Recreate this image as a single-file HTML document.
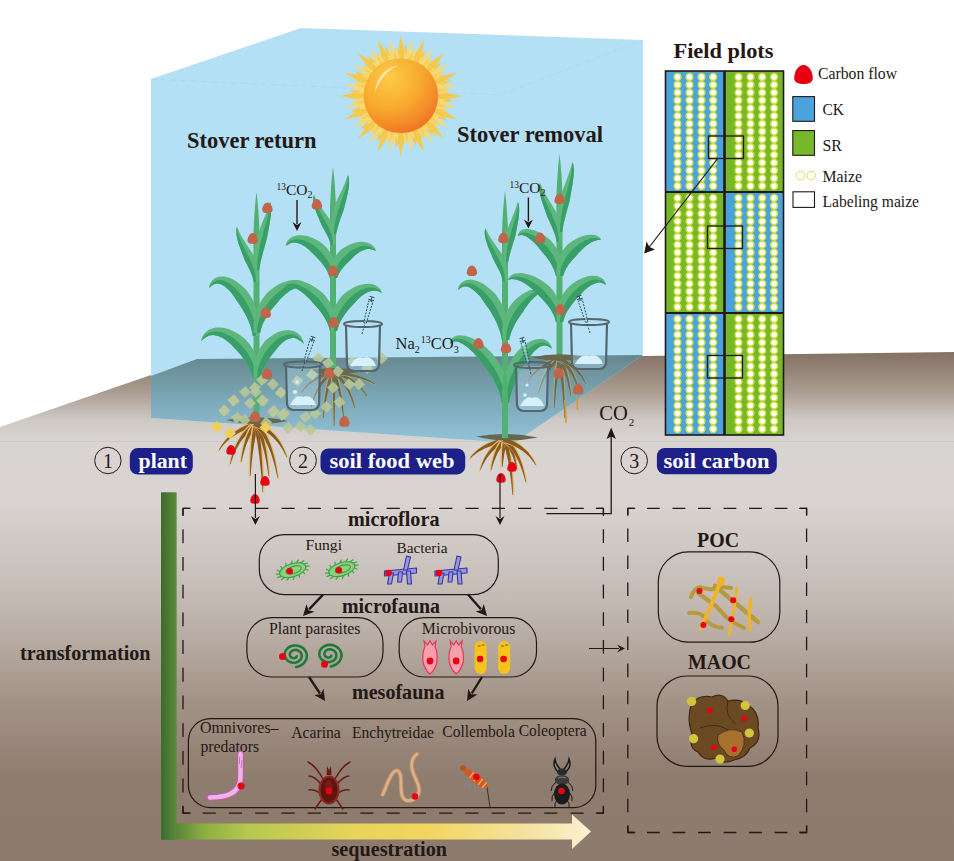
<!DOCTYPE html>
<html><head><meta charset="utf-8"><style>
html,body{margin:0;padding:0;background:#fff;}
svg{display:block;font-family:"Liberation Serif",serif;}
</style></head><body>
<svg width="954" height="861" viewBox="0 0 954 861">
<defs>
<linearGradient id="soil" gradientUnits="userSpaceOnUse" x1="0" y1="352" x2="0" y2="861">
 <stop offset="0" stop-color="#837164"/>
 <stop offset="0.075" stop-color="#a89a8e"/>
 <stop offset="0.134" stop-color="#cfc9c5"/>
 <stop offset="0.175" stop-color="#d8d4d1"/>
 <stop offset="0.3" stop-color="#d8d3d0"/>
 <stop offset="0.5" stop-color="#c2b8b1"/>
 <stop offset="0.684" stop-color="#a39387"/>
 <stop offset="0.84" stop-color="#8e7c6e"/>
 <stop offset="1" stop-color="#8d7b6d"/>
</linearGradient>
<linearGradient id="boxfloor" gradientUnits="userSpaceOnUse" x1="0" y1="358" x2="0" y2="443">
 <stop offset="0" stop-color="#678a91"/>
 <stop offset="0.5" stop-color="#7ca8b8"/>
 <stop offset="1" stop-color="#93c4d9"/>
</linearGradient>
<linearGradient id="seq" gradientUnits="userSpaceOnUse" x1="161" y1="0" x2="591" y2="0">
 <stop offset="0" stop-color="#3f6d30"/>
 <stop offset="0.1" stop-color="#8cae42"/>
 <stop offset="0.2" stop-color="#b6c84e"/>
 <stop offset="0.45" stop-color="#e8d35c"/>
 <stop offset="0.62" stop-color="#f2d560"/>
 <stop offset="0.86" stop-color="#f5e3a2"/>
 <stop offset="1" stop-color="#f9f1d2"/>
</linearGradient>
<linearGradient id="trans" gradientUnits="userSpaceOnUse" x1="161" y1="0" x2="176.4" y2="0">
 <stop offset="0" stop-color="#3d6a2e"/>
 <stop offset="1" stop-color="#5b8a3c"/>
</linearGradient>
<radialGradient id="sunbody" cx="0.35" cy="0.25" r="0.85">
 <stop offset="0" stop-color="#fccb45"/>
 <stop offset="0.5" stop-color="#f8aa2e"/>
 <stop offset="0.85" stop-color="#f17f27"/>
 <stop offset="1" stop-color="#ec6a22"/>
</radialGradient>
</defs>
<rect x="0" y="0" width="954" height="861" fill="#ffffff"/>
<polygon points="0,427 151,375 197,359 643,356 954,352 954,861 0,861" fill="url(#soil)"/>
<line x1="0" y1="441.5" x2="954" y2="441.5" stroke="#c4bdb8" stroke-width="0.8" opacity="0.6"/>
<polygon points="151,79 301,28 643,40 643,355 514,443 151,418" fill="#b4e0f6"/>
<polygon points="151,376 197,359 643,355 514,443 151,418" fill="url(#boxfloor)"/>
<path d="M151,79 L500,95 L643,40" stroke="#9fd3ef" stroke-width="0.8" fill="none" stroke-dasharray="6 4" opacity="0.7"/>
<path d="M430.4,89.9 L449.5,90.5 L444.8,92.8 L462.0,96.0 L448.5,98.9 L453.2,101.4 L430.4,102.1Z M430.5,101.6 L447.9,109.5 L442.7,109.8 L457.4,119.3 L443.7,116.9 L447.1,121.0 L425.8,112.9Z M426.1,112.4 L439.2,126.4 L434.2,124.7 L444.1,139.1 L432.5,131.7 L434.1,136.7 L417.4,121.1Z M417.9,120.8 L424.7,138.7 L420.7,135.3 L424.3,152.4 L416.5,141.0 L416.0,146.3 L406.6,125.5Z M407.1,125.4 L406.5,144.5 L404.2,139.8 L401.0,157.0 L398.1,143.5 L395.6,148.2 L394.9,125.4Z M395.4,125.5 L387.5,142.9 L387.2,137.7 L377.7,152.4 L380.1,138.7 L376.0,142.1 L384.1,120.8Z M384.6,121.1 L370.6,134.2 L372.3,129.2 L357.9,139.1 L365.3,127.5 L360.3,129.1 L375.9,112.4Z M376.2,112.9 L358.3,119.7 L361.7,115.7 L344.6,119.3 L356.0,111.5 L350.7,111.0 L371.5,101.6Z M371.6,102.1 L352.5,101.5 L357.2,99.2 L340.0,96.0 L353.5,93.1 L348.8,90.6 L371.6,89.9Z M371.5,90.4 L354.1,82.5 L359.3,82.2 L344.6,72.7 L358.3,75.1 L354.9,71.0 L376.2,79.1Z M375.9,79.6 L362.8,65.6 L367.8,67.3 L357.9,52.9 L369.5,60.3 L367.9,55.3 L384.6,70.9Z M384.1,71.2 L377.3,53.3 L381.3,56.7 L377.7,39.6 L385.5,51.0 L386.0,45.7 L395.4,66.5Z M394.9,66.6 L395.5,47.5 L397.8,52.2 L401.0,35.0 L403.9,48.5 L406.4,43.8 L407.1,66.6Z M406.6,66.5 L414.5,49.1 L414.8,54.3 L424.3,39.6 L421.9,53.3 L426.0,49.9 L417.9,71.2Z M417.4,70.9 L431.4,57.8 L429.7,62.8 L444.1,52.9 L436.7,64.5 L441.7,62.9 L426.1,79.6Z M425.8,79.1 L443.7,72.3 L440.3,76.3 L457.4,72.7 L446.0,80.5 L451.3,81.0 L430.5,90.4Z" fill="#f5c84e" opacity="1"/>
<path d="M431.0,95.7 L446.4,99.8 L441.7,101.1 L456.9,107.1 L444.0,107.4 L447.8,110.5 L428.6,107.8Z M428.8,107.2 L441.5,116.9 L436.7,116.3 L448.4,127.7 L436.4,122.9 L438.7,127.3 L422.0,117.4Z M422.4,117.0 L430.5,130.8 L426.2,128.4 L432.7,143.4 L423.4,134.4 L423.9,139.3 L412.2,123.8Z M412.8,123.6 L414.9,139.4 L411.9,135.6 L412.1,151.9 L407.0,140.1 L405.6,144.8 L400.7,126.0Z M401.3,126.0 L397.2,141.4 L395.9,136.7 L389.9,151.9 L389.6,139.0 L386.5,142.8 L389.2,123.6Z M389.8,123.8 L380.1,136.5 L380.7,131.7 L369.3,143.4 L374.1,131.4 L369.7,133.7 L379.6,117.0Z M380.0,117.4 L366.2,125.5 L368.6,121.2 L353.6,127.7 L362.6,118.4 L357.7,118.9 L373.2,107.2Z M373.4,107.8 L357.6,109.9 L361.4,106.9 L345.1,107.1 L356.9,102.0 L352.2,100.6 L371.0,95.7Z M371.0,96.3 L355.6,92.2 L360.3,90.9 L345.1,84.9 L358.0,84.6 L354.2,81.5 L373.4,84.2Z M373.2,84.8 L360.5,75.1 L365.3,75.7 L353.6,64.3 L365.6,69.1 L363.3,64.7 L380.0,74.6Z M379.6,75.0 L371.5,61.2 L375.8,63.6 L369.3,48.6 L378.6,57.6 L378.1,52.7 L389.8,68.2Z M389.2,68.4 L387.1,52.6 L390.1,56.4 L389.9,40.1 L395.0,51.9 L396.4,47.2 L401.3,66.0Z M400.7,66.0 L404.8,50.6 L406.1,55.3 L412.1,40.1 L412.4,53.0 L415.5,49.2 L412.8,68.4Z M412.2,68.2 L421.9,55.5 L421.3,60.3 L432.7,48.6 L427.9,60.6 L432.3,58.3 L422.4,75.0Z M422.0,74.6 L435.8,66.5 L433.4,70.8 L448.4,64.3 L439.4,73.6 L444.3,73.1 L428.8,84.8Z M428.6,84.2 L444.4,82.1 L440.6,85.1 L456.9,84.9 L445.1,90.0 L449.8,91.4 L431.0,96.3Z" fill="#f9d870" opacity="0.95"/>
<path d="M431.0,94.4 L447.9,98.3 L430.7,100.5Z M430.7,100.3 L446.6,107.4 L429.2,106.2Z M429.3,106.0 L443.5,116.1 L426.7,111.5Z M426.8,111.3 L438.8,124.0 L423.1,116.3Z M423.3,116.0 L432.6,130.8 L418.8,120.2Z M419.0,120.0 L425.2,136.3 L413.7,123.2Z M414.0,123.1 L416.8,140.3 L408.1,125.1Z M408.4,125.1 L407.9,142.5 L402.3,126.0Z M402.6,126.0 L398.7,142.9 L396.5,125.7Z M396.7,125.7 L389.6,141.6 L390.8,124.2Z M391.0,124.3 L380.9,138.5 L385.5,121.7Z M385.7,121.8 L373.0,133.8 L380.7,118.1Z M381.0,118.3 L366.2,127.6 L376.8,113.8Z M377.0,114.0 L360.7,120.2 L373.8,108.7Z M373.9,109.0 L356.7,111.8 L371.9,103.1Z M371.9,103.4 L354.5,102.9 L371.0,97.3Z M371.0,97.6 L354.1,93.7 L371.3,91.5Z M371.3,91.7 L355.4,84.6 L372.8,85.8Z M372.7,86.0 L358.5,75.9 L375.3,80.5Z M375.2,80.7 L363.2,68.0 L378.9,75.7Z M378.7,76.0 L369.4,61.2 L383.2,71.8Z M383.0,72.0 L376.8,55.7 L388.3,68.8Z M388.0,68.9 L385.2,51.7 L393.9,66.9Z M393.6,66.9 L394.1,49.5 L399.7,66.0Z M399.4,66.0 L403.3,49.1 L405.5,66.3Z M405.3,66.3 L412.4,50.4 L411.2,67.8Z M411.0,67.7 L421.1,53.5 L416.5,70.3Z M416.3,70.2 L429.0,58.2 L421.3,73.9Z M421.0,73.7 L435.8,64.4 L425.2,78.2Z M425.0,78.0 L441.3,71.8 L428.2,83.3Z M428.1,83.0 L445.3,80.2 L430.1,88.9Z M430.1,88.6 L447.5,89.1 L431.0,94.7Z" fill="#f3c044" opacity="0.45"/>
<circle cx="401" cy="96" r="37.5" fill="#f3b43c"/>
<circle cx="401" cy="96" r="37" fill="url(#sunbody)"/>
<path d="M375,92 Q377,70 399,65 Q383,72 375,92 Z" fill="#fff2c4" opacity="0.75"/>
<path d="M253.5,421 L253.5,232 Q254.5,207 256.5,192 Q258.5,207 259.5,232 L259.5,421 Z" fill="#52b072"/>
<path d="M258.2,282.0 L258.6,279.2 L258.7,276.4 L258.6,273.6 L258.4,270.9 L257.9,268.1 L257.3,265.4 L256.6,262.8 L255.7,260.2 L254.7,257.7 L253.6,255.3 L252.2,253.1 L250.8,250.9 L249.4,248.8 L248.0,246.7 L246.7,244.6 L245.3,242.6 L244.1,240.6 L242.9,238.7 L241.7,236.8 L240.7,234.8 L239.7,232.9 L238.8,231.0 L238.0,229.0 L237.0,227.0 L237.0,227.0 L236.4,229.2 L236.3,231.5 L236.4,233.8 L236.7,236.1 L237.2,238.5 L237.8,240.8 L238.4,243.2 L239.2,245.6 L240.1,247.9 L241.0,250.3 L241.9,252.7 L242.8,255.0 L243.7,257.4 L244.6,259.7 L245.7,261.9 L246.8,264.1 L247.9,266.3 L248.9,268.4 L250.0,270.6 L250.9,272.8 L251.8,275.0 L252.6,277.2 L253.2,279.6 L253.8,282.0 Z" fill="#5db67b"/>
<path d="M256.0,282.0 L255.9,279.4 L255.6,276.8 L255.2,274.3 L254.6,271.8 L254.0,269.3 L253.1,266.9 L252.2,264.5 L251.3,262.2 L250.2,259.8 L249.1,257.5 L248.0,255.2 L246.8,253.0 L245.6,250.7 L244.5,248.5 L243.4,246.3 L242.3,244.1 L241.3,241.9 L240.3,239.8 L239.4,237.6 L238.7,235.5 L238.0,233.4 L237.5,231.2 L237.2,229.1 L237.0,227.0 L237.0,227.0 L236.4,229.2 L236.3,231.5 L236.4,233.8 L236.7,236.1 L237.2,238.5 L237.8,240.8 L238.4,243.2 L239.2,245.6 L240.1,247.9 L241.0,250.3 L241.9,252.7 L242.8,255.0 L243.7,257.4 L244.6,259.7 L245.7,261.9 L246.8,264.1 L247.9,266.3 L248.9,268.4 L250.0,270.6 L250.9,272.8 L251.8,275.0 L252.6,277.2 L253.2,279.6 L253.8,282.0 Z" fill="#389f69"/>
<path d="M254.8,270.0 L254.4,266.5 L254.2,263.0 L254.1,259.5 L254.1,256.1 L254.3,252.7 L254.6,249.3 L255.1,246.0 L255.6,242.8 L256.3,239.6 L257.1,236.6 L258.1,233.6 L259.2,230.8 L260.2,228.0 L261.3,225.3 L262.3,222.7 L263.4,220.1 L264.3,217.6 L265.3,215.2 L266.2,212.9 L267.0,210.6 L267.8,208.4 L268.5,206.2 L269.1,204.1 L270.0,202.0 L270.0,202.0 L270.7,204.2 L271.0,206.5 L271.1,208.9 L271.1,211.4 L270.9,213.9 L270.7,216.5 L270.3,219.2 L269.9,221.9 L269.4,224.7 L268.9,227.5 L268.4,230.4 L267.8,233.3 L267.3,236.2 L266.7,239.1 L265.9,242.1 L265.1,245.0 L264.3,248.0 L263.4,251.0 L262.6,254.0 L261.8,257.1 L261.0,260.2 L260.3,263.4 L259.7,266.7 L259.2,270.0 Z" fill="#5db67b"/>
<path d="M257.0,270.0 L257.1,266.6 L257.3,263.2 L257.6,259.9 L258.0,256.6 L258.5,253.3 L259.0,250.2 L259.7,247.0 L260.4,243.9 L261.1,240.9 L261.9,237.9 L262.7,234.9 L263.5,232.0 L264.3,229.2 L265.1,226.4 L265.9,223.7 L266.6,221.0 L267.3,218.4 L268.0,215.9 L268.5,213.4 L269.0,211.0 L269.4,208.6 L269.7,206.4 L269.9,204.1 L270.0,202.0 L270.0,202.0 L270.7,204.2 L271.0,206.5 L271.1,208.9 L271.1,211.4 L270.9,213.9 L270.7,216.5 L270.3,219.2 L269.9,221.9 L269.4,224.7 L268.9,227.5 L268.4,230.4 L267.8,233.3 L267.3,236.2 L266.7,239.1 L265.9,242.1 L265.1,245.0 L264.3,248.0 L263.4,251.0 L262.6,254.0 L261.8,257.1 L261.0,260.2 L260.3,263.4 L259.7,266.7 L259.2,270.0 Z" fill="#389f69"/>
<path d="M259.1,336.0 L259.6,331.3 L259.6,326.5 L259.2,321.7 L258.5,316.9 L257.4,312.2 L256.0,307.7 L254.2,303.2 L252.2,299.0 L249.9,295.0 L247.3,291.3 L244.3,288.1 L241.2,285.2 L238.0,282.7 L234.8,280.6 L231.5,278.8 L228.1,277.5 L224.8,276.7 L221.5,276.5 L218.4,276.8 L215.5,277.9 L213.0,279.6 L211.0,281.9 L209.6,284.7 L209.0,288.0 L209.0,288.0 L211.4,285.9 L213.5,284.5 L215.5,283.7 L217.3,283.5 L218.9,283.7 L220.6,284.2 L222.3,285.0 L224.2,286.1 L226.1,287.6 L228.1,289.5 L230.2,291.6 L232.2,294.1 L234.2,296.8 L236.1,299.7 L238.3,302.7 L240.4,305.9 L242.5,309.2 L244.5,312.7 L246.4,316.3 L248.1,320.0 L249.7,323.9 L251.0,327.8 L252.1,331.9 L252.8,336.0 Z" fill="#5db67b"/>
<path d="M256.0,336.0 L255.8,331.6 L255.3,327.2 L254.4,322.8 L253.3,318.5 L251.9,314.3 L250.2,310.2 L248.4,306.2 L246.3,302.4 L244.1,298.9 L241.7,295.5 L239.3,292.5 L236.7,289.7 L234.1,287.2 L231.4,285.0 L228.8,283.2 L226.2,281.8 L223.6,280.8 L221.1,280.3 L218.7,280.3 L216.4,280.7 L214.2,281.7 L212.3,283.2 L210.5,285.3 L209.0,288.0 L209.0,288.0 L211.4,285.9 L213.5,284.5 L215.5,283.7 L217.3,283.5 L218.9,283.7 L220.6,284.2 L222.3,285.0 L224.2,286.1 L226.1,287.6 L228.1,289.5 L230.2,291.6 L232.2,294.1 L234.2,296.8 L236.1,299.7 L238.3,302.7 L240.4,305.9 L242.5,309.2 L244.5,312.7 L246.4,316.3 L248.1,320.0 L249.7,323.9 L251.0,327.8 L252.1,331.9 L252.8,336.0 Z" fill="#389f69"/>
<path d="M253.8,333.0 L253.5,328.7 L253.5,324.3 L254.0,319.9 L255.0,315.5 L256.3,311.2 L258.0,307.0 L260.0,303.0 L262.4,299.1 L265.1,295.5 L268.0,292.1 L271.4,289.3 L274.9,286.8 L278.5,284.6 L282.1,282.8 L285.8,281.4 L289.5,280.4 L293.2,279.9 L296.8,279.9 L300.3,280.5 L303.5,281.7 L306.4,283.4 L308.8,285.7 L310.8,288.5 L312.0,292.0 L312.0,292.0 L309.1,290.0 L306.6,288.5 L304.2,287.7 L301.8,287.3 L299.5,287.3 L297.2,287.7 L294.8,288.4 L292.4,289.5 L290.0,290.8 L287.6,292.5 L285.1,294.5 L282.7,296.7 L280.4,299.1 L278.1,301.8 L275.7,304.4 L273.4,307.2 L271.1,310.0 L268.9,313.0 L266.9,316.2 L265.1,319.4 L263.4,322.6 L262.0,326.0 L260.9,329.5 L260.1,333.0 Z" fill="#5db67b"/>
<path d="M257.0,333.0 L257.2,329.1 L257.8,325.2 L258.7,321.3 L260.0,317.4 L261.6,313.7 L263.5,310.0 L265.6,306.5 L267.9,303.1 L270.4,299.9 L273.1,297.0 L275.9,294.2 L278.8,291.7 L281.8,289.5 L284.8,287.6 L287.9,286.1 L291.0,284.9 L294.0,284.2 L297.0,283.8 L299.9,283.9 L302.6,284.5 L305.3,285.5 L307.7,287.1 L310.0,289.3 L312.0,292.0 L312.0,292.0 L309.1,290.0 L306.6,288.5 L304.2,287.7 L301.8,287.3 L299.5,287.3 L297.2,287.7 L294.8,288.4 L292.4,289.5 L290.0,290.8 L287.6,292.5 L285.1,294.5 L282.7,296.7 L280.4,299.1 L278.1,301.8 L275.7,304.4 L273.4,307.2 L271.1,310.0 L268.9,313.0 L266.9,316.2 L265.1,319.4 L263.4,322.6 L262.0,326.0 L260.9,329.5 L260.1,333.0 Z" fill="#389f69"/>
<path d="M259.1,378.0 L259.5,373.9 L259.4,369.7 L258.9,365.4 L257.9,361.2 L256.6,357.0 L254.8,353.0 L252.7,349.0 L250.3,345.3 L247.6,341.8 L244.6,338.6 L241.2,335.9 L237.7,333.5 L234.0,331.5 L230.4,329.8 L226.6,328.6 L222.9,327.7 L219.2,327.4 L215.6,327.6 L212.2,328.4 L209.0,329.8 L206.2,331.8 L203.9,334.3 L202.1,337.3 L201.0,341.0 L201.0,341.0 L203.8,338.7 L206.3,336.9 L208.8,335.8 L211.1,335.3 L213.4,335.1 L215.7,335.4 L218.0,336.0 L220.4,336.9 L222.8,338.1 L225.3,339.7 L227.7,341.5 L230.1,343.6 L232.5,346.0 L234.8,348.5 L237.2,351.0 L239.6,353.6 L241.9,356.4 L244.0,359.3 L246.1,362.2 L247.9,365.2 L249.6,368.3 L251.0,371.5 L252.1,374.7 L252.8,378.0 Z" fill="#5db67b"/>
<path d="M256.0,378.0 L255.8,374.3 L255.2,370.6 L254.2,366.9 L252.9,363.2 L251.3,359.6 L249.4,356.1 L247.3,352.7 L244.9,349.5 L242.4,346.4 L239.7,343.6 L236.8,340.9 L233.9,338.6 L230.9,336.5 L227.8,334.8 L224.7,333.4 L221.7,332.3 L218.6,331.7 L215.7,331.5 L212.8,331.8 L210.1,332.5 L207.5,333.8 L205.1,335.6 L202.9,338.0 L201.0,341.0 L201.0,341.0 L203.8,338.7 L206.3,336.9 L208.8,335.8 L211.1,335.3 L213.4,335.1 L215.7,335.4 L218.0,336.0 L220.4,336.9 L222.8,338.1 L225.3,339.7 L227.7,341.5 L230.1,343.6 L232.5,346.0 L234.8,348.5 L237.2,351.0 L239.6,353.6 L241.9,356.4 L244.0,359.3 L246.1,362.2 L247.9,365.2 L249.6,368.3 L251.0,371.5 L252.1,374.7 L252.8,378.0 Z" fill="#389f69"/>
<path d="M253.8,378.0 L253.4,374.2 L253.4,370.2 L253.7,366.3 L254.4,362.3 L255.5,358.3 L256.9,354.5 L258.6,350.8 L260.6,347.2 L262.8,343.9 L265.3,340.8 L268.3,338.2 L271.4,335.9 L274.5,333.9 L277.8,332.3 L281.1,331.1 L284.5,330.4 L287.8,330.1 L291.1,330.4 L294.2,331.3 L297.0,332.8 L299.5,334.8 L301.5,337.3 L303.1,340.4 L304.0,344.0 L304.0,344.0 L301.3,341.6 L298.9,339.9 L296.7,338.7 L294.6,338.1 L292.6,338.0 L290.8,338.2 L288.9,338.7 L287.1,339.5 L285.2,340.6 L283.3,342.0 L281.3,343.7 L279.4,345.6 L277.6,347.8 L275.8,350.1 L273.8,352.4 L271.8,354.9 L269.8,357.5 L268.0,360.2 L266.2,363.0 L264.6,365.9 L263.2,368.8 L261.9,371.8 L260.9,374.9 L260.1,378.0 Z" fill="#5db67b"/>
<path d="M257.0,378.0 L257.2,374.5 L257.7,371.0 L258.5,367.5 L259.5,364.1 L260.9,360.7 L262.4,357.3 L264.2,354.1 L266.2,351.1 L268.3,348.2 L270.5,345.5 L272.9,343.0 L275.4,340.8 L277.9,338.8 L280.5,337.2 L283.2,335.9 L285.8,334.9 L288.4,334.4 L290.9,334.3 L293.4,334.6 L295.8,335.4 L298.1,336.7 L300.2,338.6 L302.2,341.0 L304.0,344.0 L304.0,344.0 L301.3,341.6 L298.9,339.9 L296.7,338.7 L294.6,338.1 L292.6,338.0 L290.8,338.2 L288.9,338.7 L287.1,339.5 L285.2,340.6 L283.3,342.0 L281.3,343.7 L279.4,345.6 L277.6,347.8 L275.8,350.1 L273.8,352.4 L271.8,354.9 L269.8,357.5 L268.0,360.2 L266.2,363.0 L264.6,365.9 L263.2,368.8 L261.9,371.8 L260.9,374.9 L260.1,378.0 Z" fill="#389f69"/>
<path d="M330.0,370 L330.0,207 Q331.0,182 333,167 Q335.0,182 336.0,207 L336.0,370 Z" fill="#52b072"/>
<path d="M335.2,245.0 L335.6,242.4 L335.7,239.9 L335.6,237.3 L335.4,234.7 L334.9,232.2 L334.3,229.7 L333.5,227.3 L332.6,225.0 L331.6,222.7 L330.5,220.5 L329.1,218.5 L327.7,216.5 L326.3,214.6 L324.9,212.7 L323.6,210.9 L322.3,209.1 L321.0,207.3 L319.8,205.6 L318.7,203.8 L317.7,202.1 L316.7,200.4 L315.8,198.6 L315.0,196.8 L314.0,195.0 L314.0,195.0 L313.4,197.1 L313.3,199.2 L313.4,201.3 L313.7,203.5 L314.2,205.7 L314.8,207.9 L315.5,210.1 L316.3,212.3 L317.1,214.4 L318.0,216.6 L319.0,218.8 L319.9,221.0 L320.8,223.1 L321.7,225.2 L322.8,227.2 L323.9,229.2 L324.9,231.1 L326.0,233.0 L327.0,234.9 L327.9,236.8 L328.8,238.8 L329.6,240.8 L330.2,242.9 L330.8,245.0 Z" fill="#5db67b"/>
<path d="M333.0,245.0 L332.9,242.6 L332.6,240.3 L332.2,238.0 L331.6,235.8 L331.0,233.6 L330.1,231.4 L329.2,229.2 L328.3,227.1 L327.2,224.9 L326.1,222.9 L325.0,220.8 L323.8,218.7 L322.6,216.7 L321.5,214.7 L320.4,212.7 L319.3,210.7 L318.3,208.7 L317.3,206.7 L316.4,204.8 L315.7,202.8 L315.0,200.8 L314.5,198.9 L314.2,196.9 L314.0,195.0 L314.0,195.0 L313.4,197.1 L313.3,199.2 L313.4,201.3 L313.7,203.5 L314.2,205.7 L314.8,207.9 L315.5,210.1 L316.3,212.3 L317.1,214.4 L318.0,216.6 L319.0,218.8 L319.9,221.0 L320.8,223.1 L321.7,225.2 L322.8,227.2 L323.9,229.2 L324.9,231.1 L326.0,233.0 L327.0,234.9 L327.9,236.8 L328.8,238.8 L329.6,240.8 L330.2,242.9 L330.8,245.0 Z" fill="#389f69"/>
<path d="M331.8,234.0 L331.4,231.0 L331.2,228.0 L331.1,225.1 L331.2,222.1 L331.5,219.2 L331.9,216.4 L332.4,213.6 L333.0,210.8 L333.7,208.2 L334.5,205.6 L335.6,203.1 L336.8,200.7 L337.9,198.3 L339.0,196.1 L340.1,193.8 L341.2,191.6 L342.2,189.5 L343.1,187.3 L344.1,185.3 L344.9,183.2 L345.7,181.1 L346.4,179.1 L347.1,177.1 L348.0,175.0 L348.0,175.0 L348.7,177.2 L349.0,179.4 L349.1,181.7 L349.0,184.1 L348.8,186.5 L348.5,188.9 L348.1,191.3 L347.6,193.8 L347.0,196.2 L346.5,198.7 L345.9,201.2 L345.2,203.7 L344.6,206.2 L344.0,208.8 L343.2,211.2 L342.3,213.6 L341.4,216.1 L340.5,218.5 L339.7,221.0 L338.8,223.5 L338.1,226.0 L337.4,228.6 L336.7,231.3 L336.2,234.0 Z" fill="#5db67b"/>
<path d="M334.0,234.0 L334.1,231.1 L334.3,228.3 L334.6,225.6 L335.0,222.8 L335.6,220.1 L336.2,217.5 L336.9,214.8 L337.6,212.2 L338.4,209.7 L339.3,207.2 L340.1,204.7 L341.0,202.2 L341.9,199.8 L342.7,197.4 L343.6,195.0 L344.4,192.7 L345.1,190.4 L345.8,188.1 L346.4,185.9 L347.0,183.6 L347.4,181.4 L347.7,179.3 L347.9,177.1 L348.0,175.0 L348.0,175.0 L348.7,177.2 L349.0,179.4 L349.1,181.7 L349.0,184.1 L348.8,186.5 L348.5,188.9 L348.1,191.3 L347.6,193.8 L347.0,196.2 L346.5,198.7 L345.9,201.2 L345.2,203.7 L344.6,206.2 L344.0,208.8 L343.2,211.2 L342.3,213.6 L341.4,216.1 L340.5,218.5 L339.7,221.0 L338.8,223.5 L338.1,226.0 L337.4,228.6 L336.7,231.3 L336.2,234.0 Z" fill="#389f69"/>
<path d="M336.1,278.0 L336.5,274.5 L336.5,270.9 L336.1,267.2 L335.2,263.6 L334.0,260.0 L332.5,256.5 L330.6,253.2 L328.4,250.0 L326.0,247.1 L323.3,244.4 L320.3,242.1 L317.1,240.2 L313.9,238.5 L310.7,237.2 L307.4,236.1 L304.1,235.5 L300.9,235.2 L297.8,235.3 L294.8,235.9 L292.1,237.0 L289.7,238.6 L287.7,240.6 L286.3,243.1 L285.6,246.0 L285.6,246.0 L288.0,244.5 L290.0,243.4 L292.0,242.8 L293.8,242.6 L295.7,242.7 L297.6,243.1 L299.5,243.7 L301.5,244.6 L303.6,245.7 L305.7,247.1 L307.8,248.7 L309.8,250.5 L311.8,252.5 L313.8,254.6 L315.9,256.6 L318.0,258.7 L320.0,260.9 L321.9,263.2 L323.7,265.5 L325.3,267.9 L326.8,270.3 L328.1,272.8 L329.1,275.4 L329.9,278.0 Z" fill="#5db67b"/>
<path d="M333.0,278.0 L332.8,274.9 L332.3,271.8 L331.4,268.8 L330.3,265.7 L328.8,262.7 L327.2,259.8 L325.3,257.0 L323.2,254.4 L320.9,251.8 L318.5,249.5 L316.1,247.3 L313.5,245.3 L310.8,243.6 L308.2,242.1 L305.5,240.9 L302.8,240.0 L300.2,239.4 L297.7,239.2 L295.3,239.3 L293.0,239.8 L290.8,240.7 L288.9,242.0 L287.1,243.8 L285.6,246.0 L285.6,246.0 L288.0,244.5 L290.0,243.4 L292.0,242.8 L293.8,242.6 L295.7,242.7 L297.6,243.1 L299.5,243.7 L301.5,244.6 L303.6,245.7 L305.7,247.1 L307.8,248.7 L309.8,250.5 L311.8,252.5 L313.8,254.6 L315.9,256.6 L318.0,258.7 L320.0,260.9 L321.9,263.2 L323.7,265.5 L325.3,267.9 L326.8,270.3 L328.1,272.8 L329.1,275.4 L329.9,278.0 Z" fill="#389f69"/>
<path d="M330.9,278.0 L330.4,275.0 L330.4,271.9 L330.7,268.8 L331.3,265.7 L332.3,262.6 L333.6,259.6 L335.2,256.8 L337.1,254.1 L339.2,251.6 L341.5,249.3 L344.2,247.4 L347.0,245.9 L349.8,244.5 L352.7,243.4 L355.6,242.6 L358.5,242.0 L361.4,241.8 L364.2,242.0 L366.9,242.5 L369.4,243.4 L371.7,244.7 L373.6,246.4 L375.2,248.5 L376.0,251.0 L376.0,251.0 L373.7,250.1 L371.7,249.4 L369.8,249.1 L368.0,249.1 L366.3,249.3 L364.6,249.7 L362.8,250.4 L361.1,251.2 L359.3,252.2 L357.5,253.4 L355.8,254.8 L354.0,256.3 L352.4,257.9 L350.8,259.7 L349.1,261.3 L347.4,262.9 L345.7,264.6 L344.1,266.4 L342.6,268.2 L341.2,270.0 L339.9,271.9 L338.8,273.9 L337.9,275.9 L337.1,278.0 Z" fill="#5db67b"/>
<path d="M334.0,278.0 L334.2,275.4 L334.6,272.9 L335.3,270.4 L336.3,267.8 L337.5,265.4 L338.9,263.0 L340.5,260.7 L342.2,258.5 L344.1,256.4 L346.2,254.5 L348.3,252.7 L350.5,251.1 L352.8,249.6 L355.1,248.4 L357.4,247.4 L359.8,246.6 L362.1,246.1 L364.4,245.9 L366.6,245.9 L368.7,246.2 L370.8,246.9 L372.7,247.9 L374.4,249.3 L376.0,251.0 L376.0,251.0 L373.7,250.1 L371.7,249.4 L369.8,249.1 L368.0,249.1 L366.3,249.3 L364.6,249.7 L362.8,250.4 L361.1,251.2 L359.3,252.2 L357.5,253.4 L355.8,254.8 L354.0,256.3 L352.4,257.9 L350.8,259.7 L349.1,261.3 L347.4,262.9 L345.7,264.6 L344.1,266.4 L342.6,268.2 L341.2,270.0 L339.9,271.9 L338.8,273.9 L337.9,275.9 L337.1,278.0 Z" fill="#389f69"/>
<path d="M336.1,331.0 L336.5,326.9 L336.5,322.7 L336.0,318.5 L335.0,314.4 L333.7,310.4 L332.1,306.5 L330.1,302.7 L327.8,299.2 L325.3,295.8 L322.5,292.8 L319.3,290.2 L316.1,287.9 L312.8,285.9 L309.4,284.1 L306.1,282.7 L302.9,281.5 L299.7,280.7 L296.6,280.3 L293.6,280.3 L290.8,280.7 L288.3,281.5 L286.2,282.9 L284.6,284.7 L284.0,287.0 L284.0,287.0 L286.1,286.4 L287.8,286.1 L289.4,286.2 L291.1,286.5 L292.9,287.1 L294.8,287.9 L296.9,288.9 L299.1,290.2 L301.3,291.8 L303.6,293.5 L305.9,295.5 L308.1,297.7 L310.4,300.1 L312.5,302.6 L314.8,305.0 L317.1,307.5 L319.2,310.1 L321.3,312.8 L323.2,315.5 L325.0,318.4 L326.6,321.4 L328.0,324.5 L329.1,327.7 L329.9,331.0 Z" fill="#5db67b"/>
<path d="M333.0,331.0 L332.8,327.3 L332.2,323.6 L331.3,320.0 L330.0,316.4 L328.5,313.0 L326.7,309.6 L324.7,306.4 L322.4,303.3 L320.0,300.4 L317.5,297.7 L314.8,295.1 L312.1,292.8 L309.3,290.7 L306.5,288.8 L303.7,287.2 L301.0,285.9 L298.3,284.8 L295.7,284.1 L293.3,283.7 L291.0,283.6 L288.9,283.9 L287.0,284.5 L285.4,285.6 L284.0,287.0 L284.0,287.0 L286.1,286.4 L287.8,286.1 L289.4,286.2 L291.1,286.5 L292.9,287.1 L294.8,287.9 L296.9,288.9 L299.1,290.2 L301.3,291.8 L303.6,293.5 L305.9,295.5 L308.1,297.7 L310.4,300.1 L312.5,302.6 L314.8,305.0 L317.1,307.5 L319.2,310.1 L321.3,312.8 L323.2,315.5 L325.0,318.4 L326.6,321.4 L328.0,324.5 L329.1,327.7 L329.9,331.0 Z" fill="#389f69"/>
<path d="M330.9,331.0 L330.5,327.2 L330.5,323.3 L330.8,319.3 L331.6,315.4 L332.8,311.6 L334.3,307.9 L336.1,304.3 L338.2,300.9 L340.5,297.7 L343.1,294.7 L346.2,292.3 L349.3,290.1 L352.5,288.2 L355.7,286.6 L359.0,285.3 L362.3,284.4 L365.5,283.9 L368.7,283.8 L371.7,284.1 L374.6,284.9 L377.1,286.2 L379.3,288.0 L381.1,290.2 L382.0,293.0 L382.0,293.0 L379.5,291.8 L377.4,291.0 L375.4,290.7 L373.4,290.7 L371.5,290.9 L369.5,291.5 L367.5,292.3 L365.5,293.4 L363.4,294.7 L361.3,296.2 L359.2,298.0 L357.1,300.0 L355.1,302.2 L353.2,304.5 L351.1,306.7 L349.0,309.1 L347.0,311.5 L345.1,314.0 L343.4,316.6 L341.7,319.3 L340.2,322.1 L338.9,325.0 L337.9,327.9 L337.1,331.0 Z" fill="#5db67b"/>
<path d="M334.0,331.0 L334.2,327.6 L334.7,324.1 L335.5,320.7 L336.7,317.4 L338.1,314.1 L339.7,310.9 L341.6,307.9 L343.6,305.0 L345.8,302.2 L348.2,299.6 L350.6,297.2 L353.2,295.0 L355.8,293.1 L358.5,291.4 L361.2,290.0 L363.9,288.9 L366.5,288.1 L369.1,287.6 L371.6,287.5 L374.0,287.8 L376.3,288.4 L378.4,289.5 L380.3,291.0 L382.0,293.0 L382.0,293.0 L379.5,291.8 L377.4,291.0 L375.4,290.7 L373.4,290.7 L371.5,290.9 L369.5,291.5 L367.5,292.3 L365.5,293.4 L363.4,294.7 L361.3,296.2 L359.2,298.0 L357.1,300.0 L355.1,302.2 L353.2,304.5 L351.1,306.7 L349.0,309.1 L347.0,311.5 L345.1,314.0 L343.4,316.6 L341.7,319.3 L340.2,322.1 L338.9,325.0 L337.9,327.9 L337.1,331.0 Z" fill="#389f69"/>
<path d="M502.0,437 L502.0,231 Q503.0,206 505,191 Q507.0,206 508.0,231 L508.0,437 Z" fill="#52b072"/>
<path d="M507.2,281.0 L507.6,278.3 L507.7,275.5 L507.6,272.7 L507.3,270.0 L506.8,267.3 L506.2,264.7 L505.4,262.1 L504.4,259.6 L503.4,257.1 L502.2,254.8 L500.8,252.6 L499.3,250.5 L497.9,248.4 L496.5,246.4 L495.1,244.5 L493.7,242.6 L492.5,240.7 L491.2,238.8 L490.1,237.0 L489.1,235.2 L488.1,233.5 L487.2,231.7 L486.4,229.9 L485.5,228.0 L485.5,228.0 L484.9,230.1 L484.7,232.2 L484.8,234.4 L485.1,236.6 L485.6,238.9 L486.2,241.1 L486.9,243.4 L487.7,245.7 L488.6,248.0 L489.5,250.3 L490.5,252.6 L491.5,254.8 L492.4,257.1 L493.4,259.4 L494.5,261.5 L495.6,263.7 L496.7,265.8 L497.8,267.9 L498.9,269.9 L499.9,272.1 L500.8,274.2 L501.6,276.4 L502.2,278.7 L502.8,281.0 Z" fill="#5db67b"/>
<path d="M505.0,281.0 L504.9,278.5 L504.6,275.9 L504.2,273.5 L503.6,271.0 L502.9,268.6 L502.0,266.3 L501.1,263.9 L500.0,261.6 L498.9,259.3 L497.8,257.1 L496.6,254.9 L495.4,252.7 L494.2,250.5 L493.0,248.3 L491.8,246.2 L490.7,244.1 L489.7,242.0 L488.7,240.0 L487.8,237.9 L487.1,235.9 L486.5,233.9 L486.0,231.9 L485.6,230.0 L485.5,228.0 L485.5,228.0 L484.9,230.1 L484.7,232.2 L484.8,234.4 L485.1,236.6 L485.6,238.9 L486.2,241.1 L486.9,243.4 L487.7,245.7 L488.6,248.0 L489.5,250.3 L490.5,252.6 L491.5,254.8 L492.4,257.1 L493.4,259.4 L494.5,261.5 L495.6,263.7 L496.7,265.8 L497.8,267.9 L498.9,269.9 L499.9,272.1 L500.8,274.2 L501.6,276.4 L502.2,278.7 L502.8,281.0 Z" fill="#389f69"/>
<path d="M503.8,262.0 L503.4,259.0 L503.2,256.0 L503.0,253.0 L503.1,250.0 L503.2,247.1 L503.5,244.2 L503.9,241.3 L504.4,238.6 L505.0,235.8 L505.7,233.2 L506.7,230.7 L507.7,228.2 L508.7,225.8 L509.7,223.5 L510.7,221.2 L511.6,218.9 L512.5,216.7 L513.4,214.5 L514.3,212.4 L515.1,210.3 L515.8,208.2 L516.5,206.1 L517.1,204.1 L518.0,202.0 L518.0,202.0 L518.7,204.2 L519.0,206.4 L519.2,208.7 L519.2,211.1 L519.0,213.4 L518.8,215.9 L518.5,218.3 L518.2,220.8 L517.7,223.3 L517.3,225.8 L516.8,228.3 L516.3,230.8 L515.8,233.4 L515.3,235.9 L514.6,238.4 L513.8,240.9 L513.0,243.5 L512.2,246.0 L511.5,248.6 L510.7,251.1 L510.0,253.8 L509.3,256.5 L508.7,259.2 L508.2,262.0 Z" fill="#5db67b"/>
<path d="M506.0,262.0 L506.1,259.1 L506.2,256.2 L506.5,253.4 L506.9,250.6 L507.3,247.8 L507.9,245.1 L508.5,242.4 L509.1,239.8 L509.8,237.1 L510.5,234.6 L511.3,232.0 L512.0,229.5 L512.7,227.1 L513.5,224.6 L514.2,222.2 L514.9,219.8 L515.5,217.5 L516.1,215.2 L516.7,212.9 L517.1,210.7 L517.5,208.5 L517.8,206.3 L517.9,204.1 L518.0,202.0 L518.0,202.0 L518.7,204.2 L519.0,206.4 L519.2,208.7 L519.2,211.1 L519.0,213.4 L518.8,215.9 L518.5,218.3 L518.2,220.8 L517.7,223.3 L517.3,225.8 L516.8,228.3 L516.3,230.8 L515.8,233.4 L515.3,235.9 L514.6,238.4 L513.8,240.9 L513.0,243.5 L512.2,246.0 L511.5,248.6 L510.7,251.1 L510.0,253.8 L509.3,256.5 L508.7,259.2 L508.2,262.0 Z" fill="#389f69"/>
<path d="M508.1,340.0 L508.5,335.2 L508.6,330.4 L508.2,325.5 L507.4,320.7 L506.3,316.0 L504.8,311.4 L503.1,306.9 L501.0,302.7 L498.6,298.7 L496.1,295.0 L493.1,291.7 L489.9,288.9 L486.7,286.3 L483.5,284.1 L480.2,282.3 L476.9,280.9 L473.6,280.0 L470.4,279.6 L467.3,279.9 L464.4,280.7 L461.9,282.2 L459.9,284.3 L458.5,286.9 L458.0,290.0 L458.0,290.0 L460.3,288.2 L462.3,287.0 L464.1,286.5 L465.8,286.4 L467.4,286.7 L469.1,287.3 L470.8,288.2 L472.7,289.5 L474.7,291.0 L476.7,292.9 L478.8,295.1 L480.9,297.6 L482.9,300.4 L484.9,303.4 L487.1,306.4 L489.3,309.6 L491.4,312.9 L493.4,316.4 L495.3,320.1 L497.1,323.8 L498.6,327.7 L500.0,331.7 L501.1,335.8 L501.9,340.0 Z" fill="#5db67b"/>
<path d="M505.0,340.0 L504.8,335.5 L504.3,331.0 L503.4,326.6 L502.2,322.3 L500.8,318.0 L499.1,313.9 L497.2,309.9 L495.1,306.1 L492.9,302.6 L490.5,299.2 L488.0,296.1 L485.4,293.2 L482.8,290.7 L480.1,288.5 L477.4,286.7 L474.8,285.2 L472.2,284.1 L469.7,283.5 L467.3,283.3 L465.1,283.6 L463.0,284.4 L461.1,285.7 L459.4,287.5 L458.0,290.0 L458.0,290.0 L460.3,288.2 L462.3,287.0 L464.1,286.5 L465.8,286.4 L467.4,286.7 L469.1,287.3 L470.8,288.2 L472.7,289.5 L474.7,291.0 L476.7,292.9 L478.8,295.1 L480.9,297.6 L482.9,300.4 L484.9,303.4 L487.1,306.4 L489.3,309.6 L491.4,312.9 L493.4,316.4 L495.3,320.1 L497.1,323.8 L498.6,327.7 L500.0,331.7 L501.1,335.8 L501.9,340.0 Z" fill="#389f69"/>
<path d="M502.9,340.0 L502.4,336.0 L502.3,332.0 L502.5,328.0 L503.0,324.1 L503.9,320.2 L505.0,316.5 L506.4,312.9 L508.0,309.5 L509.8,306.4 L511.8,303.4 L514.3,300.8 L516.7,298.5 L519.2,296.4 L521.8,294.6 L524.3,293.0 L526.7,291.7 L529.1,290.6 L531.4,289.9 L533.7,289.4 L535.8,289.3 L537.8,289.5 L539.5,290.2 L540.7,291.4 L541.0,293.0 L541.0,293.0 L539.6,293.3 L538.8,293.7 L538.0,294.3 L537.1,295.0 L536.1,295.8 L534.9,296.8 L533.6,298.0 L532.2,299.5 L530.7,301.1 L529.1,302.9 L527.6,304.9 L526.1,307.0 L524.6,309.3 L523.1,311.7 L521.4,314.1 L519.7,316.5 L518.0,319.0 L516.4,321.6 L514.8,324.4 L513.4,327.2 L512.0,330.2 L510.9,333.3 L509.9,336.6 L509.1,340.0 Z" fill="#5db67b"/>
<path d="M506.0,340.0 L506.1,336.3 L506.6,332.6 L507.3,329.1 L508.2,325.6 L509.3,322.3 L510.7,319.1 L512.2,316.0 L513.8,313.0 L515.6,310.2 L517.5,307.6 L519.4,305.1 L521.4,302.8 L523.4,300.7 L525.5,298.8 L527.5,297.1 L529.4,295.6 L531.3,294.3 L533.2,293.3 L534.9,292.6 L536.5,292.1 L537.9,291.9 L539.1,292.0 L540.2,292.3 L541.0,293.0 L541.0,293.0 L539.6,293.3 L538.8,293.7 L538.0,294.3 L537.1,295.0 L536.1,295.8 L534.9,296.8 L533.6,298.0 L532.2,299.5 L530.7,301.1 L529.1,302.9 L527.6,304.9 L526.1,307.0 L524.6,309.3 L523.1,311.7 L521.4,314.1 L519.7,316.5 L518.0,319.0 L516.4,321.6 L514.8,324.4 L513.4,327.2 L512.0,330.2 L510.9,333.3 L509.9,336.6 L509.1,340.0 Z" fill="#389f69"/>
<path d="M508.1,403.0 L508.5,397.6 L508.3,392.1 L507.6,386.7 L506.5,381.3 L505.0,376.0 L503.0,370.9 L500.6,366.0 L498.0,361.4 L495.0,357.0 L491.8,352.9 L488.2,349.4 L484.5,346.2 L480.8,343.4 L477.0,340.9 L473.3,338.8 L469.6,337.2 L466.1,336.0 L462.6,335.4 L459.3,335.3 L456.2,335.8 L453.6,336.9 L451.5,338.8 L450.2,341.2 L450.0,344.0 L450.0,344.0 L452.0,342.5 L453.7,341.6 L455.3,341.4 L456.9,341.6 L458.7,342.1 L460.7,342.9 L462.9,344.1 L465.3,345.7 L467.8,347.6 L470.5,349.9 L473.2,352.5 L475.9,355.4 L478.5,358.5 L481.2,362.0 L484.0,365.4 L486.7,369.0 L489.3,372.7 L491.9,376.6 L494.2,380.7 L496.3,384.9 L498.2,389.2 L499.8,393.7 L501.0,398.3 L501.9,403.0 Z" fill="#5db67b"/>
<path d="M505.0,403.0 L504.8,397.9 L504.1,392.9 L502.9,387.9 L501.4,383.1 L499.6,378.4 L497.4,373.8 L495.0,369.4 L492.3,365.2 L489.5,361.2 L486.5,357.4 L483.4,354.0 L480.2,350.8 L477.0,347.9 L473.8,345.4 L470.6,343.2 L467.5,341.4 L464.5,340.1 L461.6,339.1 L459.0,338.7 L456.6,338.7 L454.4,339.2 L452.6,340.2 L451.1,341.8 L450.0,344.0 L450.0,344.0 L452.0,342.5 L453.7,341.6 L455.3,341.4 L456.9,341.6 L458.7,342.1 L460.7,342.9 L462.9,344.1 L465.3,345.7 L467.8,347.6 L470.5,349.9 L473.2,352.5 L475.9,355.4 L478.5,358.5 L481.2,362.0 L484.0,365.4 L486.7,369.0 L489.3,372.7 L491.9,376.6 L494.2,380.7 L496.3,384.9 L498.2,389.2 L499.8,393.7 L501.0,398.3 L501.9,403.0 Z" fill="#389f69"/>
<path d="M502.9,403.0 L502.4,397.9 L502.4,392.9 L502.7,387.8 L503.4,382.7 L504.4,377.8 L505.7,373.0 L507.3,368.3 L509.2,363.9 L511.4,359.7 L513.9,355.7 L516.7,352.3 L519.7,349.2 L522.8,346.4 L526.0,344.1 L529.2,342.1 L532.5,340.5 L535.7,339.5 L538.9,339.0 L542.1,339.1 L545.0,339.8 L547.6,341.3 L549.7,343.3 L551.3,345.9 L552.0,349.0 L552.0,349.0 L549.5,347.2 L547.4,346.1 L545.5,345.6 L543.8,345.6 L542.2,345.9 L540.6,346.6 L538.8,347.5 L537.0,348.9 L535.1,350.5 L533.2,352.5 L531.2,354.9 L529.3,357.5 L527.3,360.4 L525.5,363.6 L523.4,366.8 L521.3,370.2 L519.3,373.8 L517.3,377.6 L515.5,381.5 L513.8,385.5 L512.3,389.7 L511.0,394.0 L509.9,398.5 L509.1,403.0 Z" fill="#5db67b"/>
<path d="M506.0,403.0 L506.2,398.2 L506.7,393.5 L507.5,388.8 L508.6,384.1 L509.9,379.6 L511.5,375.3 L513.3,371.1 L515.3,367.0 L517.4,363.2 L519.7,359.7 L522.0,356.4 L524.5,353.4 L527.0,350.6 L529.6,348.3 L532.2,346.3 L534.7,344.7 L537.3,343.5 L539.8,342.8 L542.1,342.5 L544.4,342.7 L546.6,343.4 L548.6,344.7 L550.4,346.6 L552.0,349.0 L552.0,349.0 L549.5,347.2 L547.4,346.1 L545.5,345.6 L543.8,345.6 L542.2,345.9 L540.6,346.6 L538.8,347.5 L537.0,348.9 L535.1,350.5 L533.2,352.5 L531.2,354.9 L529.3,357.5 L527.3,360.4 L525.5,363.6 L523.4,366.8 L521.3,370.2 L519.3,373.8 L517.3,377.6 L515.5,381.5 L513.8,385.5 L512.3,389.7 L511.0,394.0 L509.9,398.5 L509.1,403.0 Z" fill="#389f69"/>
<path d="M556.5,357 L556.5,194 Q557.5,169 559.5,154 Q561.5,169 562.5,194 L562.5,357 Z" fill="#52b072"/>
<path d="M561.2,242.0 L561.6,239.0 L561.7,235.9 L561.6,232.9 L561.4,229.9 L561.0,227.0 L560.4,224.1 L559.6,221.2 L558.8,218.4 L557.8,215.7 L556.7,213.1 L555.3,210.7 L553.9,208.3 L552.5,205.9 L551.1,203.7 L549.7,201.5 L548.4,199.3 L547.1,197.2 L545.9,195.1 L544.7,193.0 L543.7,191.0 L542.7,189.0 L541.8,187.0 L541.0,185.0 L540.0,183.0 L540.0,183.0 L539.4,185.2 L539.3,187.5 L539.4,189.9 L539.7,192.3 L540.1,194.7 L540.7,197.1 L541.4,199.6 L542.2,202.1 L543.0,204.6 L543.9,207.1 L544.8,209.6 L545.7,212.2 L546.6,214.7 L547.5,217.2 L548.6,219.6 L549.7,222.0 L550.8,224.4 L551.9,226.8 L552.9,229.3 L553.9,231.7 L554.8,234.2 L555.6,236.7 L556.2,239.3 L556.8,242.0 Z" fill="#5db67b"/>
<path d="M559.0,242.0 L558.9,239.1 L558.6,236.3 L558.2,233.6 L557.6,230.8 L557.0,228.1 L556.1,225.5 L555.2,222.8 L554.3,220.2 L553.2,217.7 L552.1,215.2 L551.0,212.7 L549.8,210.2 L548.6,207.8 L547.5,205.4 L546.4,203.0 L545.3,200.7 L544.3,198.4 L543.3,196.1 L542.4,193.9 L541.7,191.6 L541.0,189.4 L540.5,187.3 L540.2,185.1 L540.0,183.0 L540.0,183.0 L539.4,185.2 L539.3,187.5 L539.4,189.9 L539.7,192.3 L540.1,194.7 L540.7,197.1 L541.4,199.6 L542.2,202.1 L543.0,204.6 L543.9,207.1 L544.8,209.6 L545.7,212.2 L546.6,214.7 L547.5,217.2 L548.6,219.6 L549.7,222.0 L550.8,224.4 L551.9,226.8 L552.9,229.3 L553.9,231.7 L554.8,234.2 L555.6,236.7 L556.2,239.3 L556.8,242.0 Z" fill="#389f69"/>
<path d="M557.8,232.0 L557.4,228.4 L557.2,224.9 L557.1,221.3 L557.1,217.8 L557.3,214.4 L557.6,211.0 L558.1,207.7 L558.6,204.4 L559.2,201.2 L560.0,198.1 L561.0,195.1 L562.1,192.1 L563.1,189.3 L564.1,186.5 L565.2,183.8 L566.1,181.2 L567.1,178.6 L568.0,176.1 L568.9,173.6 L569.7,171.2 L570.4,168.9 L571.1,166.6 L571.7,164.3 L572.5,162.0 L572.5,162.0 L573.3,164.3 L573.6,166.8 L573.8,169.3 L573.8,171.9 L573.7,174.6 L573.4,177.3 L573.1,180.0 L572.7,182.9 L572.3,185.7 L571.8,188.6 L571.3,191.5 L570.7,194.5 L570.2,197.5 L569.7,200.5 L568.9,203.5 L568.1,206.5 L567.2,209.6 L566.4,212.6 L565.6,215.7 L564.8,218.9 L564.0,222.1 L563.3,225.3 L562.7,228.6 L562.2,232.0 Z" fill="#5db67b"/>
<path d="M560.0,232.0 L560.1,228.5 L560.3,225.1 L560.6,221.7 L561.0,218.4 L561.4,215.1 L562.0,211.8 L562.6,208.6 L563.3,205.5 L564.1,202.3 L564.8,199.3 L565.6,196.3 L566.4,193.3 L567.2,190.4 L568.0,187.6 L568.7,184.8 L569.4,182.0 L570.1,179.3 L570.7,176.7 L571.3,174.1 L571.7,171.6 L572.1,169.1 L572.3,166.7 L572.5,164.3 L572.5,162.0 L572.5,162.0 L573.3,164.3 L573.6,166.8 L573.8,169.3 L573.8,171.9 L573.7,174.6 L573.4,177.3 L573.1,180.0 L572.7,182.9 L572.3,185.7 L571.8,188.6 L571.3,191.5 L570.7,194.5 L570.2,197.5 L569.7,200.5 L568.9,203.5 L568.1,206.5 L567.2,209.6 L566.4,212.6 L565.6,215.7 L564.8,218.9 L564.0,222.1 L563.3,225.3 L562.7,228.6 L562.2,232.0 Z" fill="#389f69"/>
<path d="M562.1,276.0 L562.6,272.2 L562.6,268.3 L562.2,264.5 L561.5,260.6 L560.4,256.9 L559.0,253.2 L557.3,249.7 L555.3,246.4 L553.1,243.3 L550.7,240.5 L547.9,238.1 L545.0,235.9 L542.1,234.1 L539.2,232.4 L536.3,231.1 L533.5,230.1 L530.7,229.4 L528.0,229.0 L525.4,229.1 L523.0,229.6 L520.9,230.5 L519.2,232.0 L518.1,233.8 L518.0,236.0 L518.0,236.0 L519.8,235.3 L521.1,235.0 L522.3,235.1 L523.5,235.4 L524.8,235.9 L526.2,236.6 L527.8,237.5 L529.5,238.7 L531.2,240.1 L533.1,241.7 L534.9,243.5 L536.8,245.5 L538.6,247.6 L540.4,249.9 L542.3,252.1 L544.3,254.4 L546.2,256.8 L548.0,259.3 L549.8,261.8 L551.4,264.4 L552.8,267.2 L554.1,270.0 L555.1,272.9 L555.9,276.0 Z" fill="#5db67b"/>
<path d="M559.0,276.0 L558.8,272.6 L558.3,269.2 L557.5,265.8 L556.4,262.5 L555.1,259.3 L553.5,256.2 L551.7,253.3 L549.8,250.4 L547.7,247.7 L545.5,245.2 L543.2,242.9 L540.9,240.7 L538.5,238.8 L536.1,237.0 L533.8,235.6 L531.5,234.4 L529.2,233.4 L527.1,232.8 L525.1,232.5 L523.3,232.5 L521.6,232.8 L520.2,233.5 L518.9,234.5 L518.0,236.0 L518.0,236.0 L519.8,235.3 L521.1,235.0 L522.3,235.1 L523.5,235.4 L524.8,235.9 L526.2,236.6 L527.8,237.5 L529.5,238.7 L531.2,240.1 L533.1,241.7 L534.9,243.5 L536.8,245.5 L538.6,247.6 L540.4,249.9 L542.3,252.1 L544.3,254.4 L546.2,256.8 L548.0,259.3 L549.8,261.8 L551.4,264.4 L552.8,267.2 L554.1,270.0 L555.1,272.9 L555.9,276.0 Z" fill="#389f69"/>
<path d="M556.9,276.0 L556.4,272.6 L556.4,269.2 L556.7,265.8 L557.4,262.4 L558.4,259.0 L559.7,255.8 L561.3,252.7 L563.2,249.8 L565.3,247.1 L567.6,244.6 L570.3,242.6 L573.0,240.7 L575.8,239.1 L578.6,237.8 L581.4,236.6 L584.2,235.7 L586.9,235.1 L589.6,234.8 L592.1,234.7 L594.6,235.0 L596.8,235.7 L598.7,236.7 L600.2,238.1 L601.0,240.0 L601.0,240.0 L599.1,240.0 L597.6,240.1 L596.2,240.4 L594.7,240.9 L593.1,241.5 L591.5,242.3 L589.8,243.3 L588.0,244.4 L586.2,245.8 L584.4,247.3 L582.6,248.9 L580.8,250.7 L579.1,252.6 L577.4,254.6 L575.6,256.4 L573.8,258.3 L572.1,260.2 L570.4,262.2 L568.8,264.3 L567.4,266.4 L566.0,268.6 L564.9,271.0 L563.9,273.4 L563.1,276.0 Z" fill="#5db67b"/>
<path d="M560.0,276.0 L560.2,273.0 L560.6,270.1 L561.4,267.2 L562.4,264.4 L563.6,261.7 L565.1,259.0 L566.7,256.5 L568.5,254.0 L570.4,251.7 L572.5,249.6 L574.7,247.6 L576.9,245.7 L579.2,244.0 L581.5,242.5 L583.8,241.2 L586.1,240.1 L588.4,239.2 L590.5,238.5 L592.6,238.1 L594.6,237.9 L596.5,238.0 L598.2,238.4 L599.7,239.1 L601.0,240.0 L601.0,240.0 L599.1,240.0 L597.6,240.1 L596.2,240.4 L594.7,240.9 L593.1,241.5 L591.5,242.3 L589.8,243.3 L588.0,244.4 L586.2,245.8 L584.4,247.3 L582.6,248.9 L580.8,250.7 L579.1,252.6 L577.4,254.6 L575.6,256.4 L573.8,258.3 L572.1,260.2 L570.4,262.2 L568.8,264.3 L567.4,266.4 L566.0,268.6 L564.9,271.0 L563.9,273.4 L563.1,276.0 Z" fill="#389f69"/>
<path d="M562.1,322.0 L562.5,318.0 L562.4,313.9 L561.9,309.9 L560.9,305.8 L559.5,301.9 L557.8,298.1 L555.7,294.5 L553.3,291.0 L550.7,287.8 L547.8,284.9 L544.5,282.4 L541.2,280.2 L537.8,278.3 L534.4,276.6 L531.0,275.3 L527.6,274.2 L524.3,273.5 L521.1,273.1 L518.1,273.2 L515.2,273.6 L512.6,274.5 L510.4,275.9 L508.8,277.7 L508.0,280.0 L508.0,280.0 L510.1,279.4 L511.9,279.1 L513.7,279.2 L515.6,279.4 L517.5,280.0 L519.6,280.8 L521.8,281.8 L524.1,283.0 L526.4,284.5 L528.8,286.3 L531.3,288.2 L533.6,290.3 L535.9,292.6 L538.2,295.0 L540.5,297.3 L542.9,299.7 L545.1,302.2 L547.2,304.8 L549.2,307.4 L551.0,310.1 L552.6,312.9 L554.0,315.8 L555.1,318.8 L555.9,322.0 Z" fill="#5db67b"/>
<path d="M559.0,322.0 L558.8,318.4 L558.2,314.9 L557.2,311.4 L555.9,308.0 L554.4,304.6 L552.5,301.4 L550.4,298.3 L548.1,295.4 L545.6,292.6 L543.0,289.9 L540.2,287.5 L537.4,285.2 L534.5,283.2 L531.6,281.4 L528.7,279.9 L525.8,278.6 L523.1,277.6 L520.4,276.9 L517.8,276.6 L515.4,276.5 L513.2,276.8 L511.2,277.5 L509.5,278.6 L508.0,280.0 L508.0,280.0 L510.1,279.4 L511.9,279.1 L513.7,279.2 L515.6,279.4 L517.5,280.0 L519.6,280.8 L521.8,281.8 L524.1,283.0 L526.4,284.5 L528.8,286.3 L531.3,288.2 L533.6,290.3 L535.9,292.6 L538.2,295.0 L540.5,297.3 L542.9,299.7 L545.1,302.2 L547.2,304.8 L549.2,307.4 L551.0,310.1 L552.6,312.9 L554.0,315.8 L555.1,318.8 L555.9,322.0 Z" fill="#389f69"/>
<path d="M556.9,322.0 L556.5,318.2 L556.5,314.4 L556.9,310.5 L557.7,306.7 L558.8,302.9 L560.3,299.2 L562.1,295.7 L564.2,292.4 L566.6,289.2 L569.1,286.4 L572.1,284.0 L575.2,281.8 L578.3,280.0 L581.5,278.4 L584.7,277.2 L587.8,276.3 L591.0,275.8 L594.0,275.7 L596.9,276.1 L599.6,276.9 L602.0,278.2 L604.0,280.1 L605.4,282.3 L606.0,285.0 L606.0,285.0 L603.7,283.8 L601.8,283.0 L600.1,282.6 L598.3,282.6 L596.6,282.9 L594.9,283.4 L593.0,284.2 L591.1,285.2 L589.1,286.5 L587.1,288.0 L585.0,289.8 L583.0,291.7 L581.1,293.9 L579.1,296.1 L577.1,298.3 L575.0,300.6 L573.0,303.0 L571.1,305.5 L569.4,308.0 L567.7,310.6 L566.2,313.3 L564.9,316.1 L563.9,319.0 L563.1,322.0 Z" fill="#5db67b"/>
<path d="M560.0,322.0 L560.2,318.6 L560.7,315.3 L561.5,311.9 L562.7,308.7 L564.1,305.5 L565.7,302.4 L567.6,299.4 L569.6,296.5 L571.8,293.8 L574.1,291.3 L576.6,288.9 L579.1,286.8 L581.7,284.9 L584.3,283.2 L586.9,281.9 L589.5,280.8 L592.0,280.0 L594.4,279.6 L596.8,279.5 L599.0,279.8 L601.0,280.4 L602.9,281.5 L604.6,283.0 L606.0,285.0 L606.0,285.0 L603.7,283.8 L601.8,283.0 L600.1,282.6 L598.3,282.6 L596.6,282.9 L594.9,283.4 L593.0,284.2 L591.1,285.2 L589.1,286.5 L587.1,288.0 L585.0,289.8 L583.0,291.7 L581.1,293.9 L579.1,296.1 L577.1,298.3 L575.0,300.6 L573.0,303.0 L571.1,305.5 L569.4,308.0 L567.7,310.6 L566.2,313.3 L564.9,316.1 L563.9,319.0 L563.1,322.0 Z" fill="#389f69"/>
<path d="M332.4,369.5 L329.1,370.5 L325.9,371.7 L322.9,373.0 L320.0,374.4 L317.3,376.0 L314.7,377.6 L312.3,379.4 L310.1,381.3 L308.0,383.3 L306.0,385.4 L304.2,387.6 L302.5,389.9 L301.1,392.3 L299.7,394.9 L300.3,395.1 L301.9,392.9 L303.7,390.7 L305.5,388.7 L307.5,386.8 L309.6,385.0 L311.8,383.4 L314.1,381.9 L316.5,380.5 L319.0,379.2 L321.7,378.0 L324.5,377.0 L327.4,376.0 L330.5,375.2 L333.6,374.5Z" fill="#a9a57b"/>
<path d="M333.1,370.2 L329.9,371.2 L326.8,372.3 L323.9,373.5 L321.1,374.7 L318.4,376.1 L315.9,377.6 L313.5,379.2 L311.3,380.8 L309.2,382.6 L307.3,384.5 L305.5,386.4 L303.8,388.5 L302.3,390.6 L300.9,392.8 L301.5,393.2 L303.0,391.1 L304.7,389.2 L306.5,387.4 L308.4,385.6 L310.4,384.0 L312.5,382.5 L314.8,381.1 L317.1,379.8 L319.7,378.5 L322.3,377.4 L325.0,376.3 L327.9,375.4 L330.9,374.6 L334.1,373.8Z" fill="#6b684b"/>
<path d="M331.7,369.8 L329.4,371.4 L327.2,373.2 L325.1,375.3 L323.1,377.4 L321.2,379.8 L319.5,382.4 L317.9,385.1 L316.4,388.0 L315.0,391.0 L313.7,394.2 L312.6,397.7 L311.5,401.2 L310.5,405.0 L309.7,408.9 L310.3,409.1 L311.5,405.3 L312.8,401.7 L314.2,398.3 L315.6,395.1 L317.2,392.1 L318.8,389.3 L320.5,386.7 L322.3,384.3 L324.1,382.1 L326.0,380.1 L328.0,378.4 L330.0,376.8 L332.1,375.4 L334.3,374.2Z" fill="#a9a57b"/>
<path d="M332.7,370.4 L330.4,372.0 L328.3,373.7 L326.2,375.6 L324.3,377.6 L322.5,379.9 L320.8,382.2 L319.2,384.8 L317.7,387.5 L316.3,390.3 L315.0,393.3 L313.8,396.5 L312.8,399.8 L311.8,403.3 L310.9,406.9 L311.5,407.1 L312.6,403.5 L313.8,400.2 L315.1,397.0 L316.5,394.0 L318.0,391.1 L319.5,388.5 L321.1,386.0 L322.8,383.7 L324.6,381.6 L326.4,379.6 L328.3,377.9 L330.3,376.3 L332.4,374.9 L334.5,373.6Z" fill="#6b684b"/>
<path d="M330.8,370.6 L329.8,372.7 L328.8,375.0 L327.9,377.5 L327.1,380.2 L326.3,383.1 L325.6,386.3 L324.9,389.7 L324.3,393.3 L323.7,397.1 L323.2,401.2 L322.8,405.6 L322.3,410.1 L322.0,414.9 L321.7,420.0 L322.3,420.0 L323.0,415.0 L323.7,410.3 L324.5,405.8 L325.3,401.5 L326.1,397.6 L327.0,393.8 L327.9,390.3 L328.8,387.1 L329.8,384.2 L330.8,381.5 L331.9,379.0 L333.0,376.9 L334.1,375.0 L335.2,373.4Z" fill="#a9a57b"/>
<path d="M332.0,371.0 L331.0,373.0 L330.1,375.2 L329.2,377.6 L328.4,380.2 L327.6,383.0 L326.9,386.0 L326.2,389.2 L325.6,392.7 L325.0,396.4 L324.5,400.2 L324.0,404.3 L323.6,408.7 L323.2,413.2 L322.9,418.0 L323.5,418.0 L324.1,413.3 L324.7,408.8 L325.4,404.5 L326.1,400.5 L326.9,396.7 L327.6,393.1 L328.5,389.8 L329.3,386.6 L330.2,383.8 L331.1,381.1 L332.1,378.7 L333.1,376.5 L334.1,374.6 L335.2,373.0Z" fill="#6b684b"/>
<path d="M330.4,372.0 L330.6,374.1 L330.7,376.6 L330.9,379.3 L331.0,382.3 L331.2,385.6 L331.3,389.1 L331.5,393.0 L331.6,397.1 L331.8,401.6 L332.0,406.3 L332.1,411.3 L332.3,416.6 L332.5,422.1 L332.7,428.0 L333.3,428.0 L333.5,422.1 L333.7,416.6 L333.9,411.3 L334.0,406.3 L334.2,401.6 L334.4,397.1 L334.5,393.0 L334.7,389.1 L334.8,385.6 L335.0,382.3 L335.1,379.3 L335.3,376.6 L335.4,374.1 L335.6,372.0Z" fill="#a9a57b"/>
<path d="M331.7,372.1 L331.9,374.2 L332.1,376.6 L332.2,379.2 L332.4,382.1 L332.5,385.3 L332.7,388.8 L332.8,392.5 L333.0,396.5 L333.1,400.8 L333.3,405.3 L333.4,410.1 L333.6,415.1 L333.7,420.4 L333.9,426.0 L334.5,426.0 L334.6,420.4 L334.7,415.1 L334.8,410.0 L334.9,405.3 L334.9,400.7 L335.0,396.5 L335.1,392.5 L335.1,388.8 L335.2,385.3 L335.3,382.1 L335.3,379.2 L335.4,376.5 L335.4,374.1 L335.5,371.9Z" fill="#6b684b"/>
<path d="M330.9,373.5 L332.1,375.1 L333.3,377.0 L334.4,379.2 L335.5,381.7 L336.6,384.4 L337.7,387.5 L338.7,390.7 L339.7,394.3 L340.6,398.1 L341.5,402.2 L342.4,406.5 L343.2,411.1 L344.0,415.9 L344.7,421.0 L345.3,421.0 L345.0,415.8 L344.6,410.9 L344.1,406.2 L343.6,401.8 L343.0,397.7 L342.4,393.7 L341.7,390.0 L340.9,386.5 L340.1,383.3 L339.3,380.3 L338.3,377.5 L337.4,375.0 L336.3,372.7 L335.1,370.5Z" fill="#a9a57b"/>
<path d="M330.8,373.0 L332.0,374.7 L333.1,376.7 L334.2,378.9 L335.2,381.3 L336.2,384.0 L337.2,387.0 L338.1,390.1 L339.0,393.6 L339.9,397.2 L340.7,401.1 L341.4,405.2 L342.2,409.6 L342.8,414.2 L343.5,419.0 L344.1,419.0 L343.7,414.1 L343.3,409.5 L342.8,405.0 L342.3,400.8 L341.7,396.9 L341.0,393.1 L340.4,389.6 L339.6,386.3 L338.8,383.2 L338.0,380.3 L337.1,377.7 L336.1,375.2 L335.1,373.0 L334.0,371.0Z" fill="#6b684b"/>
<path d="M331.7,374.2 L333.9,375.4 L336.0,376.9 L338.0,378.5 L340.0,380.3 L341.9,382.3 L343.7,384.6 L345.5,387.0 L347.2,389.7 L348.8,392.6 L350.3,395.7 L351.8,399.0 L353.2,402.5 L354.5,406.2 L355.7,410.1 L356.3,409.9 L355.5,405.9 L354.5,402.0 L353.4,398.4 L352.3,394.9 L351.0,391.6 L349.6,388.4 L348.1,385.5 L346.5,382.7 L344.8,380.1 L342.9,377.7 L341.0,375.4 L338.9,373.3 L336.7,371.5 L334.3,369.8Z" fill="#a9a57b"/>
<path d="M331.4,373.6 L333.6,374.9 L335.6,376.3 L337.6,378.0 L339.6,379.8 L341.4,381.8 L343.2,384.0 L344.9,386.4 L346.5,388.9 L348.0,391.6 L349.5,394.6 L350.9,397.7 L352.2,401.0 L353.4,404.4 L354.5,408.1 L355.1,407.9 L354.2,404.2 L353.2,400.6 L352.2,397.2 L351.0,393.9 L349.7,390.8 L348.3,387.9 L346.8,385.1 L345.2,382.5 L343.5,380.1 L341.7,377.8 L339.8,375.7 L337.8,373.8 L335.6,372.0 L333.4,370.4Z" fill="#6b684b"/>
<path d="M332.3,374.5 L335.7,375.3 L338.9,376.3 L342.0,377.3 L345.0,378.6 L347.8,379.9 L350.5,381.4 L353.1,383.0 L355.5,384.7 L357.9,386.6 L360.1,388.6 L362.2,390.8 L364.1,393.1 L366.0,395.6 L367.7,398.1 L368.3,397.9 L366.9,395.0 L365.3,392.3 L363.5,389.7 L361.6,387.2 L359.5,384.9 L357.3,382.6 L354.9,380.5 L352.3,378.6 L349.6,376.7 L346.7,375.0 L343.7,373.4 L340.5,372.0 L337.2,370.7 L333.7,369.5Z" fill="#a9a57b"/>
<path d="M331.9,373.8 L335.2,374.7 L338.4,375.6 L341.5,376.7 L344.4,377.9 L347.2,379.2 L349.9,380.6 L352.4,382.2 L354.8,383.8 L357.1,385.6 L359.2,387.5 L361.2,389.5 L363.1,391.6 L364.9,393.8 L366.5,396.2 L367.1,395.8 L365.6,393.3 L364.0,390.9 L362.3,388.6 L360.4,386.3 L358.3,384.2 L356.1,382.2 L353.7,380.3 L351.2,378.5 L348.5,376.9 L345.7,375.3 L342.7,373.9 L339.6,372.5 L336.3,371.3 L332.9,370.2Z" fill="#6b684b"/>
<path d="M332.7,374.6 L336.9,374.9 L340.9,375.4 L344.7,375.9 L348.4,376.5 L351.9,377.2 L355.2,377.9 L358.3,378.7 L361.3,379.6 L364.1,380.5 L366.8,381.5 L369.3,382.6 L371.6,383.7 L373.8,385.0 L375.8,386.2 L376.2,385.8 L374.4,384.1 L372.3,382.6 L370.1,381.1 L367.7,379.6 L365.1,378.3 L362.3,377.0 L359.3,375.8 L356.1,374.7 L352.8,373.6 L349.2,372.6 L345.5,371.7 L341.6,370.9 L337.5,370.1 L333.3,369.4Z" fill="#a9a57b"/>
<path d="M332.2,373.8 L336.3,374.3 L340.3,374.7 L344.1,375.3 L347.7,375.8 L351.2,376.5 L354.4,377.1 L357.5,377.8 L360.5,378.6 L363.3,379.4 L365.9,380.3 L368.3,381.2 L370.6,382.2 L372.7,383.2 L374.6,384.2 L375.0,383.8 L373.1,382.4 L371.1,381.2 L368.9,380.0 L366.5,378.8 L363.9,377.7 L361.1,376.7 L358.2,375.7 L355.0,374.7 L351.7,373.8 L348.3,373.0 L344.6,372.2 L340.8,371.5 L336.8,370.8 L332.6,370.2Z" fill="#6b684b"/>
<path d="M306,371 Q333,365 362,371 Q333,378 306,371 Z" fill="#66684f"/>
<path d="M558.8,356.3 L555.5,357.4 L552.4,358.7 L549.4,360.0 L546.6,361.5 L543.9,363.1 L541.4,364.8 L539.0,366.7 L536.8,368.7 L534.7,370.7 L532.8,372.9 L531.1,375.3 L529.5,377.7 L528.0,380.2 L526.7,382.9 L527.3,383.1 L528.9,380.8 L530.6,378.5 L532.5,376.4 L534.4,374.4 L536.5,372.6 L538.7,370.9 L541.0,369.3 L543.4,367.9 L545.9,366.5 L548.5,365.3 L551.2,364.2 L554.1,363.3 L557.1,362.4 L560.2,361.7Z" fill="#a9a57b"/>
<path d="M559.6,357.1 L556.4,358.1 L553.4,359.3 L550.5,360.5 L547.7,361.8 L545.1,363.3 L542.6,364.9 L540.3,366.5 L538.1,368.3 L536.0,370.1 L534.1,372.1 L532.3,374.1 L530.7,376.3 L529.3,378.5 L527.9,380.8 L528.5,381.2 L530.0,379.0 L531.7,377.0 L533.4,375.1 L535.3,373.3 L537.3,371.6 L539.4,370.0 L541.6,368.5 L544.0,367.1 L546.4,365.8 L549.0,364.6 L551.7,363.6 L554.6,362.6 L557.5,361.7 L560.6,360.9Z" fill="#6b684b"/>
<path d="M558.1,356.6 L555.8,358.3 L553.6,360.1 L551.6,362.2 L549.7,364.4 L547.9,366.8 L546.2,369.3 L544.6,372.0 L543.2,374.9 L541.8,378.0 L540.6,381.2 L539.4,384.6 L538.4,388.2 L537.5,392.0 L536.7,395.9 L537.3,396.1 L538.5,392.3 L539.8,388.7 L541.2,385.3 L542.6,382.1 L544.1,379.1 L545.7,376.3 L547.4,373.7 L549.1,371.3 L550.9,369.2 L552.8,367.2 L554.7,365.5 L556.7,363.9 L558.8,362.6 L560.9,361.4Z" fill="#a9a57b"/>
<path d="M559.1,357.3 L556.9,358.9 L554.8,360.6 L552.8,362.5 L550.9,364.6 L549.1,366.8 L547.5,369.2 L545.9,371.7 L544.5,374.4 L543.1,377.3 L541.9,380.3 L540.7,383.5 L539.7,386.8 L538.7,390.3 L537.9,393.9 L538.5,394.1 L539.6,390.5 L540.8,387.2 L542.1,384.0 L543.4,381.0 L544.9,378.1 L546.4,375.5 L548.0,373.0 L549.6,370.7 L551.4,368.6 L553.2,366.7 L555.1,364.9 L557.0,363.3 L559.0,361.9 L561.1,360.7Z" fill="#6b684b"/>
<path d="M556.9,358.1 L556.4,360.2 L555.9,362.6 L555.4,365.1 L555.0,368.0 L554.6,371.0 L554.3,374.4 L554.0,377.9 L553.7,381.7 L553.5,385.8 L553.2,390.1 L553.0,394.7 L552.9,399.5 L552.8,404.6 L552.7,410.0 L553.3,410.0 L553.8,404.7 L554.3,399.6 L554.9,394.8 L555.4,390.3 L556.0,386.1 L556.6,382.1 L557.2,378.3 L557.9,374.9 L558.5,371.7 L559.2,368.8 L559.9,366.1 L560.6,363.8 L561.4,361.7 L562.1,359.9Z" fill="#a9a57b"/>
<path d="M558.2,358.4 L557.7,360.4 L557.2,362.7 L556.8,365.2 L556.4,367.9 L556.0,370.9 L555.7,374.1 L555.4,377.5 L555.1,381.1 L554.8,385.0 L554.6,389.1 L554.3,393.5 L554.2,398.1 L554.0,402.9 L553.9,408.0 L554.5,408.0 L554.9,403.0 L555.3,398.2 L555.8,393.6 L556.2,389.3 L556.7,385.2 L557.2,381.4 L557.7,377.8 L558.3,374.4 L558.9,371.3 L559.4,368.5 L560.1,365.9 L560.7,363.5 L561.3,361.4 L562.0,359.6Z" fill="#6b684b"/>
<path d="M556.8,359.8 L557.6,362.0 L558.4,364.5 L559.1,367.3 L559.8,370.5 L560.5,374.1 L561.1,377.9 L561.8,382.0 L562.4,386.5 L563.0,391.3 L563.6,396.4 L564.1,401.9 L564.7,407.6 L565.2,413.6 L565.7,420.0 L566.3,420.0 L566.2,413.6 L566.1,407.5 L566.0,401.7 L565.8,396.3 L565.5,391.1 L565.3,386.3 L565.0,381.7 L564.7,377.5 L564.4,373.5 L564.0,369.9 L563.6,366.5 L563.1,363.5 L562.7,360.7 L562.2,358.2Z" fill="#a9a57b"/>
<path d="M557.0,359.5 L557.6,361.7 L558.3,364.3 L558.9,367.1 L559.5,370.3 L560.1,373.7 L560.7,377.5 L561.3,381.5 L561.8,385.8 L562.3,390.5 L562.8,395.4 L563.2,400.6 L563.7,406.1 L564.1,411.9 L564.5,418.0 L565.1,418.0 L565.0,411.9 L564.8,406.1 L564.7,400.5 L564.4,395.3 L564.2,390.3 L563.9,385.6 L563.6,381.3 L563.3,377.2 L563.0,373.3 L562.6,369.8 L562.2,366.6 L561.8,363.6 L561.3,360.9 L560.8,358.5Z" fill="#6b684b"/>
<path d="M557.4,360.9 L558.6,362.1 L559.8,363.5 L561.0,365.2 L562.2,367.1 L563.3,369.2 L564.4,371.6 L565.5,374.1 L566.5,376.9 L567.4,379.9 L568.4,383.1 L569.3,386.5 L570.1,390.2 L570.9,394.0 L571.7,398.0 L572.3,398.0 L572.0,393.8 L571.5,389.9 L571.1,386.2 L570.5,382.6 L569.9,379.3 L569.3,376.1 L568.5,373.1 L567.8,370.3 L566.9,367.7 L566.0,365.2 L565.0,363.0 L564.0,360.9 L562.8,358.9 L561.6,357.1Z" fill="#a9a57b"/>
<path d="M557.4,360.3 L558.5,361.6 L559.7,363.1 L560.8,364.8 L561.9,366.7 L562.9,368.7 L563.9,371.0 L564.9,373.5 L565.8,376.2 L566.7,379.0 L567.6,382.0 L568.3,385.3 L569.1,388.7 L569.8,392.3 L570.5,396.0 L571.1,396.0 L570.7,392.1 L570.3,388.5 L569.8,385.0 L569.2,381.7 L568.6,378.5 L567.9,375.6 L567.2,372.8 L566.4,370.1 L565.6,367.6 L564.7,365.3 L563.7,363.2 L562.7,361.2 L561.6,359.4 L560.4,357.7Z" fill="#6b684b"/>
<path d="M558.1,361.4 L560.0,362.4 L561.9,363.7 L563.7,365.1 L565.5,366.7 L567.2,368.4 L568.8,370.4 L570.4,372.6 L571.9,374.9 L573.4,377.5 L574.8,380.2 L576.1,383.2 L577.4,386.3 L578.6,389.6 L579.7,393.1 L580.3,392.9 L579.6,389.3 L578.8,385.8 L577.9,382.5 L576.8,379.4 L575.7,376.4 L574.5,373.6 L573.2,370.9 L571.8,368.4 L570.2,366.0 L568.6,363.8 L566.9,361.8 L565.0,359.9 L563.0,358.2 L560.9,356.6Z" fill="#a9a57b"/>
<path d="M557.9,360.7 L559.8,361.8 L561.6,363.1 L563.4,364.5 L565.1,366.1 L566.7,367.9 L568.3,369.8 L569.8,371.9 L571.3,374.1 L572.7,376.6 L574.0,379.1 L575.2,381.9 L576.4,384.8 L577.5,387.8 L578.5,391.1 L579.1,390.9 L578.3,387.6 L577.5,384.4 L576.6,381.4 L575.5,378.5 L574.4,375.7 L573.2,373.1 L571.9,370.6 L570.5,368.3 L569.0,366.1 L567.4,364.0 L565.7,362.1 L563.9,360.4 L561.9,358.8 L559.9,357.3Z" fill="#6b684b"/>
<path d="M558.6,361.6 L561.2,362.4 L563.7,363.4 L566.1,364.5 L568.4,365.7 L570.7,367.1 L572.8,368.6 L574.9,370.3 L576.8,372.1 L578.7,374.0 L580.5,376.2 L582.2,378.4 L583.8,380.8 L585.3,383.4 L586.7,386.1 L587.3,385.9 L586.2,383.0 L585.1,380.1 L583.7,377.5 L582.3,374.9 L580.7,372.5 L579.0,370.2 L577.1,368.0 L575.2,365.9 L573.0,364.0 L570.8,362.2 L568.4,360.5 L565.9,359.0 L563.2,357.6 L560.4,356.4Z" fill="#a9a57b"/>
<path d="M558.2,360.9 L560.8,361.8 L563.3,362.8 L565.7,363.9 L568.0,365.1 L570.1,366.5 L572.2,367.9 L574.2,369.5 L576.1,371.2 L577.9,373.1 L579.6,375.0 L581.3,377.1 L582.8,379.3 L584.2,381.7 L585.5,384.1 L586.1,383.9 L585.0,381.2 L583.8,378.7 L582.5,376.3 L581.0,374.0 L579.4,371.8 L577.7,369.7 L575.9,367.7 L573.9,365.9 L571.8,364.1 L569.6,362.5 L567.3,361.0 L564.8,359.6 L562.3,358.3 L559.6,357.1Z" fill="#6b684b"/>
<path d="M532,357.5 Q560,351 588,357.5 Q560,364 532,357.5 Z" fill="#66684f"/>
<path d="M565,400 L566,423 M577,398 L577.5,410" stroke="#d49a3a" stroke-width="1.6" fill="none"/>
<path d="M255.1,420.8 L251.3,422.1 L247.7,423.5 L244.2,425.1 L240.9,426.9 L237.8,428.7 L234.8,430.8 L232.1,432.9 L229.5,435.3 L227.0,437.7 L224.8,440.3 L222.8,443.0 L220.9,445.8 L219.2,448.8 L217.7,451.9 L218.3,452.1 L220.2,449.4 L222.2,446.8 L224.4,444.3 L226.7,442.0 L229.1,439.9 L231.7,437.9 L234.3,436.1 L237.2,434.4 L240.1,432.8 L243.2,431.4 L246.4,430.2 L249.7,429.1 L253.2,428.1 L256.9,427.2Z" fill="#e3be6c"/>
<path d="M256.0,421.7 L252.3,422.9 L248.7,424.3 L245.3,425.7 L242.1,427.3 L239.0,429.0 L236.1,430.9 L233.3,432.8 L230.8,434.9 L228.4,437.1 L226.1,439.4 L224.1,441.9 L222.2,444.4 L220.5,447.1 L218.9,449.8 L219.5,450.2 L221.3,447.6 L223.2,445.2 L225.3,442.9 L227.5,440.8 L229.9,438.8 L232.3,436.9 L235.0,435.2 L237.7,433.5 L240.6,432.0 L243.6,430.6 L246.8,429.4 L250.1,428.2 L253.6,427.2 L257.2,426.3Z" fill="#8a5a24"/>
<path d="M254.4,421.1 L251.6,423.0 L249.0,425.1 L246.6,427.4 L244.2,430.0 L242.1,432.7 L240.1,435.6 L238.2,438.7 L236.4,442.0 L234.8,445.5 L233.3,449.2 L232.0,453.1 L230.8,457.2 L229.7,461.4 L228.7,465.9 L229.3,466.1 L230.8,461.8 L232.3,457.7 L234.0,453.8 L235.7,450.2 L237.5,446.8 L239.4,443.7 L241.4,440.8 L243.5,438.1 L245.7,435.7 L247.9,433.5 L250.2,431.5 L252.6,429.8 L255.1,428.2 L257.6,426.9Z" fill="#e3be6c"/>
<path d="M255.4,421.9 L252.8,423.7 L250.2,425.7 L247.8,427.9 L245.6,430.3 L243.4,432.8 L241.4,435.6 L239.6,438.5 L237.8,441.6 L236.2,444.8 L234.7,448.3 L233.3,451.9 L232.0,455.7 L230.9,459.7 L229.9,463.9 L230.5,464.1 L231.9,460.0 L233.3,456.2 L234.8,452.5 L236.5,449.1 L238.2,445.9 L240.0,442.8 L241.9,440.0 L243.9,437.4 L246.0,435.0 L248.2,432.8 L250.5,430.8 L252.8,429.1 L255.3,427.5 L257.8,426.1Z" fill="#8a5a24"/>
<path d="M253.8,421.5 L252.1,423.4 L250.6,425.4 L249.2,427.6 L247.9,430.0 L246.7,432.6 L245.6,435.4 L244.6,438.3 L243.7,441.4 L242.8,444.7 L242.0,448.2 L241.3,451.8 L240.7,455.7 L240.1,459.7 L239.7,464.0 L240.3,464.0 L241.3,459.9 L242.3,456.0 L243.4,452.3 L244.5,448.8 L245.7,445.6 L246.9,442.5 L248.2,439.7 L249.5,437.1 L250.9,434.8 L252.3,432.7 L253.8,430.8 L255.2,429.1 L256.7,427.7 L258.2,426.5Z" fill="#e3be6c"/>
<path d="M255.0,422.3 L253.4,424.0 L252.0,425.9 L250.6,428.0 L249.4,430.2 L248.2,432.7 L247.1,435.2 L246.0,438.0 L245.1,440.9 L244.2,444.0 L243.4,447.2 L242.7,450.6 L242.0,454.2 L241.4,458.0 L240.9,462.0 L241.5,462.0 L242.4,458.2 L243.3,454.5 L244.3,451.0 L245.3,447.7 L246.3,444.6 L247.5,441.7 L248.7,439.0 L249.9,436.5 L251.2,434.2 L252.5,432.1 L253.9,430.2 L255.3,428.5 L256.7,427.0 L258.2,425.7Z" fill="#8a5a24"/>
<path d="M252.9,422.9 L252.3,425.2 L251.8,427.7 L251.3,430.4 L250.9,433.4 L250.5,436.7 L250.2,440.2 L249.9,444.0 L249.6,448.1 L249.4,452.4 L249.1,456.9 L249.0,461.8 L248.8,466.9 L248.7,472.3 L248.7,478.0 L249.3,478.0 L249.9,472.4 L250.5,467.0 L251.1,462.0 L251.7,457.2 L252.4,452.7 L253.0,448.4 L253.7,444.5 L254.4,440.8 L255.2,437.5 L255.9,434.4 L256.7,431.6 L257.5,429.1 L258.3,427.0 L259.1,425.1Z" fill="#e3be6c"/>
<path d="M254.3,423.2 L253.8,425.4 L253.3,427.9 L252.9,430.5 L252.4,433.4 L252.0,436.6 L251.7,439.9 L251.3,443.6 L251.0,447.5 L250.8,451.6 L250.5,456.0 L250.3,460.6 L250.1,465.5 L250.0,470.6 L249.9,476.0 L250.5,476.0 L251.0,470.7 L251.5,465.6 L252.0,460.7 L252.5,456.1 L253.0,451.8 L253.6,447.7 L254.2,443.9 L254.8,440.4 L255.4,437.1 L256.0,434.1 L256.7,431.3 L257.4,428.9 L258.1,426.7 L258.9,424.8Z" fill="#8a5a24"/>
<path d="M252.8,425.0 L253.7,427.5 L254.7,430.4 L255.6,433.6 L256.4,437.3 L257.3,441.3 L258.1,445.7 L258.9,450.5 L259.6,455.6 L260.4,461.1 L261.1,467.0 L261.8,473.2 L262.4,479.8 L263.1,486.7 L263.7,494.0 L264.3,494.0 L264.2,486.6 L264.1,479.7 L263.9,473.0 L263.6,466.8 L263.4,460.8 L263.1,455.3 L262.7,450.0 L262.3,445.2 L261.9,440.6 L261.4,436.4 L260.9,432.6 L260.4,429.1 L259.8,425.9 L259.2,423.0Z" fill="#e3be6c"/>
<path d="M253.1,424.7 L253.9,427.2 L254.8,430.1 L255.5,433.4 L256.3,437.0 L257.1,440.9 L257.8,445.3 L258.4,449.9 L259.1,454.9 L259.7,460.2 L260.3,465.9 L260.9,471.9 L261.5,478.3 L262.0,485.0 L262.5,492.0 L263.1,492.0 L263.0,484.9 L262.8,478.2 L262.5,471.8 L262.3,465.8 L262.0,460.0 L261.6,454.7 L261.3,449.6 L260.9,444.9 L260.4,440.5 L259.9,436.4 L259.4,432.7 L258.9,429.2 L258.3,426.1 L257.7,423.3Z" fill="#8a5a24"/>
<path d="M253.3,426.0 L254.7,427.7 L256.1,429.8 L257.4,432.1 L258.8,434.8 L260.1,437.8 L261.3,441.1 L262.5,444.7 L263.7,448.6 L264.8,452.8 L265.9,457.3 L266.9,462.0 L267.9,467.1 L268.8,472.4 L269.7,478.0 L270.3,478.0 L270.0,472.3 L269.5,466.9 L269.0,461.7 L268.4,456.8 L267.8,452.2 L267.0,447.9 L266.3,443.8 L265.4,439.9 L264.5,436.3 L263.5,433.0 L262.5,429.9 L261.3,427.1 L260.1,424.4 L258.7,422.0Z" fill="#e3be6c"/>
<path d="M253.4,425.4 L254.8,427.2 L256.1,429.3 L257.4,431.7 L258.6,434.4 L259.8,437.4 L261.0,440.6 L262.1,444.1 L263.1,447.9 L264.2,451.9 L265.1,456.2 L266.0,460.8 L266.9,465.6 L267.7,470.7 L268.5,476.0 L269.1,476.0 L268.7,470.6 L268.2,465.4 L267.6,460.5 L267.0,455.9 L266.4,451.5 L265.6,447.3 L264.8,443.4 L264.0,439.7 L263.0,436.3 L262.0,433.1 L261.0,430.1 L259.9,427.4 L258.6,424.9 L257.4,422.6Z" fill="#8a5a24"/>
<path d="M253.8,426.5 L256.0,428.3 L258.1,430.4 L260.2,432.9 L262.3,435.6 L264.3,438.7 L266.2,442.0 L268.0,445.7 L269.8,449.7 L271.5,454.0 L273.1,458.6 L274.6,463.5 L276.0,468.7 L277.4,474.3 L278.7,480.0 L279.3,480.0 L278.5,474.0 L277.6,468.4 L276.6,463.0 L275.5,457.9 L274.3,453.1 L273.0,448.6 L271.6,444.3 L270.0,440.2 L268.4,436.5 L266.6,433.0 L264.7,429.7 L262.7,426.7 L260.5,424.0 L258.2,421.5Z" fill="#e3be6c"/>
<path d="M253.8,425.8 L256.0,427.7 L258.1,429.9 L260.1,432.3 L262.1,435.1 L264.0,438.1 L265.8,441.4 L267.5,445.0 L269.2,448.9 L270.8,453.1 L272.3,457.5 L273.7,462.3 L275.1,467.2 L276.3,472.5 L277.5,478.0 L278.1,478.0 L277.3,472.3 L276.3,467.0 L275.3,461.9 L274.2,457.0 L272.9,452.4 L271.6,448.1 L270.2,444.0 L268.6,440.1 L267.0,436.5 L265.2,433.2 L263.3,430.1 L261.3,427.2 L259.2,424.6 L257.0,422.2Z" fill="#8a5a24"/>
<path d="M254.8,427.1 L257.8,428.2 L260.7,429.4 L263.5,430.9 L266.2,432.5 L268.9,434.3 L271.4,436.3 L273.8,438.4 L276.1,440.8 L278.3,443.4 L280.4,446.1 L282.4,449.1 L284.3,452.2 L286.0,455.6 L287.7,459.1 L288.3,458.9 L287.1,455.1 L285.7,451.5 L284.2,448.0 L282.6,444.7 L280.7,441.6 L278.8,438.6 L276.6,435.8 L274.3,433.2 L271.9,430.7 L269.3,428.4 L266.5,426.2 L263.6,424.3 L260.5,422.5 L257.2,420.9Z" fill="#e3be6c"/>
<path d="M254.5,426.2 L257.5,427.4 L260.4,428.7 L263.2,430.1 L265.9,431.8 L268.4,433.5 L270.9,435.5 L273.2,437.6 L275.5,439.9 L277.6,442.3 L279.6,444.9 L281.5,447.7 L283.3,450.7 L284.9,453.8 L286.5,457.1 L287.1,456.9 L285.8,453.4 L284.4,450.1 L282.9,446.9 L281.2,443.9 L279.4,441.0 L277.4,438.2 L275.3,435.6 L273.0,433.2 L270.6,430.9 L268.0,428.8 L265.3,426.8 L262.4,425.0 L259.4,423.3 L256.3,421.8Z" fill="#8a5a24"/>
<path d="M226,420 Q256,414 288,421 Q256,428 226,420 Z" fill="#66694f"/>
<path d="M504.3,436.7 L500.8,437.7 L497.3,438.8 L494.0,440.0 L490.9,441.3 L487.9,442.7 L485.1,444.2 L482.5,445.8 L480.0,447.5 L477.7,449.3 L475.5,451.2 L473.6,453.3 L471.8,455.3 L470.2,457.5 L468.8,459.8 L469.2,460.2 L471.1,458.3 L473.0,456.5 L475.0,454.8 L477.2,453.2 L479.4,451.8 L481.8,450.4 L484.3,449.2 L487.0,448.0 L489.8,447.0 L492.7,446.1 L495.7,445.2 L498.9,444.5 L502.2,443.8 L505.7,443.3Z" fill="#e3be6c"/>
<path d="M505.1,437.7 L501.6,438.6 L498.3,439.6 L495.0,440.6 L492.0,441.8 L489.1,443.0 L486.3,444.3 L483.7,445.7 L481.3,447.2 L479.0,448.8 L476.8,450.4 L474.9,452.2 L473.1,454.0 L471.4,455.8 L470.0,457.8 L470.4,458.2 L472.1,456.5 L474.0,454.9 L475.9,453.4 L478.0,452.0 L480.2,450.7 L482.5,449.4 L485.0,448.3 L487.6,447.2 L490.3,446.2 L493.2,445.2 L496.2,444.4 L499.4,443.6 L502.6,442.9 L506.1,442.3Z" fill="#8a5a24"/>
<path d="M503.7,436.9 L501.0,438.4 L498.5,440.1 L496.1,441.9 L493.8,443.9 L491.7,446.1 L489.7,448.3 L487.9,450.8 L486.2,453.4 L484.6,456.1 L483.2,459.0 L481.9,462.0 L480.7,465.1 L479.6,468.4 L478.7,471.9 L479.3,472.1 L480.7,468.9 L482.2,465.8 L483.8,462.9 L485.4,460.2 L487.2,457.7 L489.0,455.4 L490.9,453.2 L492.9,451.2 L494.9,449.5 L497.1,447.8 L499.3,446.4 L501.6,445.1 L503.9,444.0 L506.3,443.1Z" fill="#e3be6c"/>
<path d="M504.6,437.8 L502.1,439.2 L499.6,440.8 L497.3,442.5 L495.1,444.3 L493.0,446.2 L491.1,448.4 L489.3,450.6 L487.6,453.0 L486.0,455.5 L484.5,458.1 L483.2,460.8 L482.0,463.7 L480.9,466.7 L479.9,469.9 L480.5,470.1 L481.8,467.1 L483.2,464.3 L484.7,461.6 L486.2,459.1 L487.9,456.7 L489.6,454.5 L491.4,452.4 L493.3,450.5 L495.3,448.8 L497.4,447.1 L499.6,445.7 L501.8,444.4 L504.2,443.2 L506.6,442.2Z" fill="#8a5a24"/>
<path d="M503.0,437.3 L501.4,438.9 L500.0,440.6 L498.6,442.4 L497.4,444.4 L496.3,446.5 L495.2,448.8 L494.3,451.2 L493.4,453.7 L492.6,456.4 L491.8,459.2 L491.2,462.2 L490.6,465.3 L490.1,468.5 L489.7,471.9 L490.3,472.1 L491.2,468.8 L492.2,465.7 L493.2,462.7 L494.3,460.0 L495.4,457.4 L496.5,455.0 L497.7,452.8 L499.0,450.8 L500.3,449.0 L501.6,447.3 L502.9,445.9 L504.3,444.6 L505.6,443.6 L507.0,442.7Z" fill="#e3be6c"/>
<path d="M504.1,438.1 L502.7,439.6 L501.3,441.1 L500.0,442.8 L498.8,444.7 L497.7,446.6 L496.6,448.7 L495.7,450.9 L494.8,453.2 L494.0,455.7 L493.2,458.3 L492.5,461.0 L491.9,463.8 L491.4,466.8 L490.9,469.9 L491.5,470.1 L492.3,467.0 L493.2,464.2 L494.1,461.4 L495.1,458.9 L496.1,456.5 L497.1,454.2 L498.2,452.1 L499.4,450.2 L500.6,448.4 L501.8,446.8 L503.1,445.3 L504.4,444.0 L505.7,442.9 L507.1,441.9Z" fill="#8a5a24"/>
<path d="M501.9,438.8 L501.6,440.1 L501.4,441.6 L501.2,443.1 L501.0,444.8 L500.9,446.6 L500.8,448.5 L500.7,450.6 L500.6,452.8 L500.6,455.2 L500.5,457.6 L500.5,460.3 L500.6,463.0 L500.6,465.9 L500.7,469.0 L501.3,469.0 L501.8,466.0 L502.2,463.1 L502.6,460.4 L503.1,457.9 L503.6,455.5 L504.0,453.2 L504.5,451.1 L505.0,449.2 L505.5,447.4 L506.0,445.8 L506.5,444.4 L507.1,443.2 L507.6,442.1 L508.1,441.2Z" fill="#e3be6c"/>
<path d="M503.3,439.3 L503.1,440.5 L502.9,441.8 L502.7,443.3 L502.5,444.8 L502.4,446.5 L502.3,448.3 L502.1,450.2 L502.1,452.2 L502.0,454.4 L501.9,456.7 L501.9,459.0 L501.9,461.6 L501.9,464.2 L501.9,467.0 L502.5,467.0 L502.8,464.3 L503.2,461.7 L503.5,459.2 L503.9,456.8 L504.2,454.6 L504.6,452.5 L505.0,450.6 L505.3,448.7 L505.7,447.0 L506.1,445.5 L506.6,444.1 L507.0,442.8 L507.4,441.7 L507.9,440.7Z" fill="#8a5a24"/>
<path d="M501.9,441.4 L502.9,443.3 L503.9,445.5 L504.9,448.1 L505.8,451.1 L506.7,454.3 L507.6,457.8 L508.5,461.7 L509.3,465.8 L510.1,470.3 L510.9,475.0 L511.6,480.1 L512.3,485.4 L513.0,491.1 L513.7,497.0 L514.3,497.0 L514.2,491.0 L514.0,485.3 L513.7,479.9 L513.4,474.8 L513.1,469.9 L512.7,465.4 L512.3,461.1 L511.8,457.1 L511.3,453.3 L510.8,449.9 L510.2,446.7 L509.5,443.8 L508.8,441.1 L508.1,438.6Z" fill="#e3be6c"/>
<path d="M502.2,440.9 L503.1,442.9 L504.0,445.2 L504.9,447.8 L505.7,450.7 L506.5,453.9 L507.3,457.3 L508.1,461.1 L508.8,465.1 L509.5,469.4 L510.1,474.0 L510.8,478.8 L511.4,484.0 L511.9,489.3 L512.5,495.0 L513.1,495.0 L512.9,489.3 L512.7,483.8 L512.4,478.7 L512.1,473.8 L511.7,469.1 L511.3,464.8 L510.8,460.7 L510.4,456.8 L509.8,453.2 L509.3,449.9 L508.7,446.8 L508.0,444.0 L507.3,441.4 L506.6,439.1Z" fill="#8a5a24"/>
<path d="M502.8,442.5 L504.0,443.4 L505.2,444.4 L506.4,445.6 L507.6,447.0 L508.8,448.6 L509.9,450.4 L511.0,452.4 L512.1,454.5 L513.1,456.8 L514.1,459.3 L515.1,462.0 L516.0,464.9 L516.8,467.9 L517.7,471.0 L518.3,471.0 L518.0,467.6 L517.6,464.5 L517.1,461.5 L516.6,458.6 L516.0,455.9 L515.3,453.3 L514.6,450.9 L513.8,448.6 L512.9,446.4 L511.9,444.3 L510.9,442.4 L509.8,440.6 L508.5,439.0 L507.2,437.5Z" fill="#e3be6c"/>
<path d="M502.8,441.8 L504.0,442.7 L505.2,443.8 L506.3,445.1 L507.4,446.5 L508.5,448.1 L509.5,449.8 L510.5,451.7 L511.5,453.7 L512.5,455.9 L513.3,458.2 L514.2,460.7 L515.0,463.4 L515.8,466.1 L516.5,469.1 L517.1,468.9 L516.7,465.9 L516.3,463.1 L515.8,460.3 L515.2,457.7 L514.6,455.2 L513.9,452.8 L513.2,450.6 L512.3,448.4 L511.5,446.4 L510.5,444.6 L509.5,442.8 L508.4,441.1 L507.2,439.6 L506.0,438.2Z" fill="#8a5a24"/>
<path d="M503.1,442.7 L505.1,444.1 L507.1,445.7 L509.1,447.5 L511.0,449.6 L512.9,451.9 L514.7,454.5 L516.5,457.4 L518.2,460.4 L519.8,463.8 L521.3,467.4 L522.8,471.2 L524.1,475.2 L525.4,479.5 L526.7,484.1 L527.3,483.9 L526.6,479.3 L525.7,474.8 L524.8,470.6 L523.7,466.5 L522.6,462.7 L521.3,459.1 L519.9,455.6 L518.4,452.4 L516.8,449.4 L515.1,446.6 L513.3,443.9 L511.3,441.5 L509.2,439.3 L506.9,437.3Z" fill="#e3be6c"/>
<path d="M503.0,441.9 L505.0,443.4 L507.0,445.0 L508.9,446.9 L510.8,449.0 L512.6,451.3 L514.3,453.9 L516.0,456.6 L517.6,459.6 L519.1,462.8 L520.5,466.2 L521.9,469.9 L523.2,473.7 L524.4,477.8 L525.5,482.1 L526.1,481.9 L525.3,477.6 L524.4,473.4 L523.4,469.4 L522.4,465.6 L521.2,462.0 L519.9,458.6 L518.5,455.4 L517.0,452.3 L515.4,449.5 L513.7,446.8 L511.9,444.3 L510.0,442.1 L508.0,440.0 L505.8,438.1Z" fill="#8a5a24"/>
<path d="M504.0,443.2 L507.1,444.0 L510.0,444.9 L512.8,446.0 L515.5,447.2 L518.1,448.5 L520.6,450.0 L523.0,451.6 L525.2,453.4 L527.4,455.3 L529.5,457.3 L531.4,459.6 L533.3,461.9 L535.1,464.5 L536.7,467.1 L537.3,466.9 L536.1,463.9 L534.7,461.1 L533.2,458.3 L531.5,455.7 L529.6,453.2 L527.6,450.9 L525.4,448.7 L523.1,446.5 L520.6,444.6 L518.0,442.7 L515.2,441.0 L512.3,439.5 L509.2,438.1 L506.0,436.8Z" fill="#e3be6c"/>
<path d="M503.7,442.3 L506.7,443.1 L509.6,444.1 L512.4,445.2 L515.1,446.4 L517.6,447.7 L520.0,449.2 L522.4,450.7 L524.6,452.4 L526.7,454.2 L528.7,456.1 L530.5,458.2 L532.3,460.4 L534.0,462.7 L535.5,465.1 L536.1,464.9 L534.8,462.2 L533.4,459.7 L531.8,457.2 L530.1,454.9 L528.3,452.6 L526.3,450.5 L524.1,448.5 L521.8,446.6 L519.4,444.8 L516.8,443.2 L514.1,441.6 L511.2,440.2 L508.2,438.9 L505.1,437.7Z" fill="#8a5a24"/>
<path d="M476,436.5 Q505,431 538,437.5 Q505,444 476,436.5 Z" fill="#66694f"/>
<path d="M502.0,438 L502.0,400 Q503.0,375 505,360 Q507.0,375 508.0,400 L508.0,438 Z" fill="#52b072"/>
<rect x="229.20000000000002" y="396.2" width="8.4" height="8.4" fill="#b9c799" opacity="0.88" transform="rotate(48.799999999999955 233.4 400.4)"/>
<rect x="220.20000000000002" y="406.7" width="8.4" height="8.4" fill="#b9c799" opacity="0.88" transform="rotate(45.799999999999955 224.4 410.9)"/>
<rect x="245.9" y="399.0" width="8.4" height="8.4" fill="#b9c799" opacity="0.88" transform="rotate(45.700000000000045 250.1 403.2)"/>
<rect x="257.8" y="396.2" width="8.4" height="8.4" fill="#b9c799" opacity="0.88" transform="rotate(49 262 400.4)"/>
<rect x="232.70000000000002" y="413.7" width="8.4" height="8.4" fill="#b9c799" opacity="0.88" transform="rotate(53.299999999999955 236.9 417.9)"/>
<rect x="240.4" y="415.8" width="8.4" height="8.4" fill="#b9c799" opacity="0.88" transform="rotate(47.200000000000045 244.6 420)"/>
<rect x="262.0" y="418.5" width="8.4" height="8.4" fill="#b9c799" opacity="0.88" transform="rotate(38.399999999999864 266.2 422.7)"/>
<rect x="269.6" y="406.7" width="8.4" height="8.4" fill="#b9c799" opacity="0.88" transform="rotate(51.600000000000136 273.8 410.9)"/>
<rect x="278.0" y="410.8" width="8.4" height="8.4" fill="#b9c799" opacity="0.88" transform="rotate(50.399999999999864 282.2 415)"/>
<rect x="251.5" y="387.8" width="8.4" height="8.4" fill="#b9c799" opacity="0.88" transform="rotate(44.899999999999864 255.7 392)"/>
<rect x="276.6" y="388.6" width="8.4" height="8.4" fill="#b9c799" opacity="0.88" transform="rotate(40.600000000000136 280.8 392.8)"/>
<rect x="250.8" y="383.40000000000003" width="8.4" height="8.4" fill="#b9c799" opacity="0.88" transform="rotate(40 255 387.6)"/>
<rect x="268.7" y="380.1" width="8.4" height="8.4" fill="#b9c799" opacity="0.88" transform="rotate(45.29999999999973 272.9 384.3)"/>
<rect x="276.8" y="388.2" width="8.4" height="8.4" fill="#b9c799" opacity="0.88" transform="rotate(42 281 392.4)"/>
<rect x="229.70000000000002" y="396.40000000000003" width="8.4" height="8.4" fill="#b9c799" opacity="0.88" transform="rotate(52.299999999999955 233.9 400.6)"/>
<rect x="219.9" y="406.1" width="8.4" height="8.4" fill="#b9c799" opacity="0.88" transform="rotate(43.700000000000045 224.1 410.3)"/>
<rect x="258.90000000000003" y="396.40000000000003" width="8.4" height="8.4" fill="#b9c799" opacity="0.88" transform="rotate(36.70000000000027 263.1 400.6)"/>
<rect x="268.7" y="407.8" width="8.4" height="8.4" fill="#b9c799" opacity="0.88" transform="rotate(45.29999999999973 272.9 412)"/>
<rect x="280.1" y="409.40000000000003" width="8.4" height="8.4" fill="#b9c799" opacity="0.88" transform="rotate(45.100000000000136 284.3 413.6)"/>
<rect x="293.1" y="376.8" width="8.4" height="8.4" fill="#b9c799" opacity="0.88" transform="rotate(36.09999999999991 297.3 381)"/>
<rect x="293.1" y="396.40000000000003" width="8.4" height="8.4" fill="#b9c799" opacity="0.88" transform="rotate(36.09999999999991 297.3 400.6)"/>
<rect x="307.7" y="370.40000000000003" width="8.4" height="8.4" fill="#b9c799" opacity="0.88" transform="rotate(38.29999999999973 311.9 374.6)"/>
<rect x="314.2" y="354.1" width="8.4" height="8.4" fill="#b9c799" opacity="0.88" transform="rotate(43.79999999999973 318.4 358.3)"/>
<rect x="324.0" y="359.0" width="8.4" height="8.4" fill="#b9c799" opacity="0.88" transform="rotate(52.40000000000009 328.2 363.2)"/>
<rect x="301.2" y="412.6" width="8.4" height="8.4" fill="#b9c799" opacity="0.88" transform="rotate(52.79999999999973 305.4 416.8)"/>
<rect x="311.0" y="409.40000000000003" width="8.4" height="8.4" fill="#b9c799" opacity="0.88" transform="rotate(41.40000000000009 315.2 413.6)"/>
<rect x="322.3" y="402.8" width="8.4" height="8.4" fill="#b9c799" opacity="0.88" transform="rotate(40.5 326.5 407)"/>
<rect x="328.8" y="383.40000000000003" width="8.4" height="8.4" fill="#b9c799" opacity="0.88" transform="rotate(46 333 387.6)"/>
<rect x="335.3" y="398.0" width="8.4" height="8.4" fill="#b9c799" opacity="0.88" transform="rotate(51.5 339.5 402.2)"/>
<rect x="345.1" y="380.1" width="8.4" height="8.4" fill="#b9c799" opacity="0.88" transform="rotate(40.09999999999991 349.3 384.3)"/>
<rect x="354.8" y="380.1" width="8.4" height="8.4" fill="#b9c799" opacity="0.88" transform="rotate(48 359 384.3)"/>
<rect x="363.0" y="363.8" width="8.4" height="8.4" fill="#b9c799" opacity="0.88" transform="rotate(45.40000000000009 367.2 368)"/>
<rect x="377.6" y="354.1" width="8.4" height="8.4" fill="#b9c799" opacity="0.88" transform="rotate(47.59999999999991 381.8 358.3)"/>
<rect x="333.7" y="367.1" width="8.4" height="8.4" fill="#b9c799" opacity="0.88" transform="rotate(40.29999999999973 337.9 371.3)"/>
<rect x="348.3" y="357.40000000000003" width="8.4" height="8.4" fill="#b9c799" opacity="0.88" transform="rotate(42.5 352.5 361.6)"/>
<rect x="296.3" y="422.40000000000003" width="8.4" height="8.4" fill="#b9c799" opacity="0.88" transform="rotate(38.5 300.5 426.6)"/>
<rect x="306.1" y="425.6" width="8.4" height="8.4" fill="#b9c799" opacity="0.88" transform="rotate(47.09999999999991 310.3 429.8)"/>
<rect x="283.8" y="423.8" width="8.4" height="8.4" fill="#b9c799" opacity="0.88" transform="rotate(51 288 428)"/>
<rect x="257.8" y="375.8" width="8.4" height="8.4" fill="#b9c799" opacity="0.88" transform="rotate(49 262 380)"/>
<rect x="240.8" y="387.8" width="8.4" height="8.4" fill="#b9c799" opacity="0.88" transform="rotate(50 245 392)"/>
<rect x="212.5" y="422.7" width="8.4" height="8.4" fill="#f2cf5b" opacity="1" transform="rotate(45 216.7 426.9)"/>
<rect x="225.8" y="429.0" width="8.4" height="8.4" fill="#f2cf5b" opacity="1" transform="rotate(45 230 433.2)"/>
<rect x="261.3" y="423.40000000000003" width="8.4" height="8.4" fill="#f2cf5b" opacity="1" transform="rotate(45 265.5 427.6)"/>
<path d="M286,365.5 L287,404 Q288,410 294,410 L312,410 Q318,410 319,404 L320,365.5" fill="#bfe6f8" fill-opacity="0.35" stroke="#56666f" stroke-width="2.2"/>
<ellipse cx="303.0" cy="364.5" rx="19.0" ry="3" fill="none" stroke="#56666f" stroke-width="2"/>
<path d="M290,405 Q296,394 303.0,397 Q312,394 316,405 Z" fill="#d6f1fc"/>
<path d="M346,325 L347,365 Q348,371 354,371 L372,371 Q378,371 379,365 L380,325" fill="#bfe6f8" fill-opacity="0.35" stroke="#56666f" stroke-width="2.2"/>
<ellipse cx="363.0" cy="324" rx="19.0" ry="3" fill="none" stroke="#56666f" stroke-width="2"/>
<path d="M350,366 Q356,355 363.0,358 Q372,355 376,366 Z" fill="#d6f1fc"/>
<path d="M516,366 L517,405 Q518,411 524,411 L540,411 Q546,411 547,405 L548,366" fill="#bfe6f8" fill-opacity="0.35" stroke="#56666f" stroke-width="2.2"/>
<ellipse cx="532.0" cy="365" rx="18.0" ry="3" fill="none" stroke="#56666f" stroke-width="2"/>
<path d="M520,406 Q526,395 532.0,398 Q540,395 544,406 Z" fill="#d6f1fc"/>
<path d="M571,323 L572,363 Q573,369 579,369 L599,369 Q605,369 606,363 L607,323" fill="#bfe6f8" fill-opacity="0.35" stroke="#56666f" stroke-width="2.2"/>
<ellipse cx="589.0" cy="322" rx="20.0" ry="3" fill="none" stroke="#56666f" stroke-width="2"/>
<path d="M575,364 Q581,353 589.0,356 Q599,353 603,364 Z" fill="#d6f1fc"/>
<path d="M306.4,361.2 L313.8,341.8 L309.6,340.4 L304.2,360.4 Z" fill="#b4e0f6" fill-opacity="0.5" stroke="#2f4f5c" stroke-width="1" stroke-dasharray="2 1.2"/>
<path d="M302.0,371.0 L305.3,360.8" stroke="#2f4f5c" stroke-width="1" stroke-dasharray="2 1.5"/>
<path d="M309.3,338.8 L315.0,340.6 M311.7,341.1 L313.0,337.0 M310.6,336.2 L315.4,337.8" stroke="#2f4f5c" stroke-width="1"/>
<path d="M366.2,323.2 L372.9,302.0 L368.7,300.9 L363.8,322.6 Z" fill="#b4e0f6" fill-opacity="0.5" stroke="#2f4f5c" stroke-width="1" stroke-dasharray="2 1.2"/>
<path d="M362.0,334.0 L365.0,322.9" stroke="#2f4f5c" stroke-width="1" stroke-dasharray="2 1.5"/>
<path d="M368.3,299.2 L374.1,300.7 M370.8,301.4 L372.0,297.0 M369.6,296.3 L374.4,297.7" stroke="#2f4f5c" stroke-width="1"/>
<path d="M529.5,362.9 L525.2,341.8 L520.9,342.9 L527.1,363.5 Z" fill="#b4e0f6" fill-opacity="0.5" stroke="#2f4f5c" stroke-width="1" stroke-dasharray="2 1.2"/>
<path d="M531.0,374.0 L528.3,363.2" stroke="#2f4f5c" stroke-width="1" stroke-dasharray="2 1.5"/>
<path d="M519.8,341.6 L525.6,340.2 M523.1,342.3 L522.0,338.0 M519.6,338.6 L524.4,337.4" stroke="#2f4f5c" stroke-width="1"/>
<path d="M587.9,321.6 L582.4,299.8 L578.2,301.1 L585.5,322.2 Z" fill="#b4e0f6" fill-opacity="0.5" stroke="#2f4f5c" stroke-width="1" stroke-dasharray="2 1.2"/>
<path d="M590.0,333.0 L586.7,321.9" stroke="#2f4f5c" stroke-width="1" stroke-dasharray="2 1.5"/>
<path d="M577.0,299.8 L582.8,298.1 M580.3,300.4 L579.0,296.0 M576.6,296.7 L581.4,295.3" stroke="#2f4f5c" stroke-width="1"/>
<circle cx="297" cy="382" r="1.8" fill="#d6f1fc"/>
<circle cx="295" cy="392" r="2.0" fill="#d6f1fc"/>
<circle cx="525" cy="395" r="1.8" fill="#d6f1fc"/>
<circle cx="529" cy="403" r="2.0" fill="#d6f1fc"/>
<circle cx="527" cy="385" r="1.5" fill="#d6f1fc"/>
<path d="M267.4,202.4 C270.4,202.4 272.59999999999997,207.0 272.59999999999997,209.6 C272.59999999999997,212.6 270.2,213.2 267.4,213.2 C264.59999999999997,213.2 262.2,212.6 262.2,209.6 C262.2,207.0 264.4,202.4 267.4,202.4 Z" fill="#c0654a"/>
<path d="M252.7,233.1 C255.7,233.1 257.9,237.7 257.9,240.29999999999998 C257.9,243.29999999999998 255.5,243.89999999999998 252.7,243.89999999999998 C249.89999999999998,243.89999999999998 247.5,243.29999999999998 247.5,240.29999999999998 C247.5,237.7 249.7,233.1 252.7,233.1 Z" fill="#c0654a"/>
<path d="M265.7,307.2 C268.7,307.2 270.9,311.8 270.9,314.40000000000003 C270.9,317.40000000000003 268.5,318.0 265.7,318.0 C262.9,318.0 260.5,317.40000000000003 260.5,314.40000000000003 C260.5,311.8 262.7,307.2 265.7,307.2 Z" fill="#c0654a"/>
<path d="M267,368.4 C270.0,368.4 272.2,373.0 272.2,375.6 C272.2,378.6 269.8,379.2 267,379.2 C264.2,379.2 261.8,378.6 261.8,375.6 C261.8,373.0 264.0,368.4 267,368.4 Z" fill="#c0654a"/>
<path d="M255,411.2 C258.0,411.2 260.2,415.8 260.2,418.40000000000003 C260.2,421.40000000000003 257.8,422.0 255,422.0 C252.2,422.0 249.8,421.40000000000003 249.8,418.40000000000003 C249.8,415.8 252.0,411.2 255,411.2 Z" fill="#c0654a"/>
<path d="M316.9,198.9 C319.9,198.9 322.09999999999997,203.5 322.09999999999997,206.1 C322.09999999999997,209.1 319.7,209.7 316.9,209.7 C314.09999999999997,209.7 311.7,209.1 311.7,206.1 C311.7,203.5 313.9,198.9 316.9,198.9 Z" fill="#c0654a"/>
<path d="M333,265.4 C336.0,265.4 338.2,270.0 338.2,272.6 C338.2,275.6 335.8,276.2 333,276.2 C330.2,276.2 327.8,275.6 327.8,272.6 C327.8,270.0 330.0,265.4 333,265.4 Z" fill="#c0654a"/>
<path d="M333.7,316.9 C336.7,316.9 338.9,321.5 338.9,324.1 C338.9,327.1 336.5,327.7 333.7,327.7 C330.9,327.7 328.5,327.1 328.5,324.1 C328.5,321.5 330.7,316.9 333.7,316.9 Z" fill="#c0654a"/>
<path d="M329,367.4 C332.0,367.4 334.2,372.0 334.2,374.6 C334.2,377.6 331.8,378.2 329,378.2 C326.2,378.2 323.8,377.6 323.8,374.6 C323.8,372.0 326.0,367.4 329,367.4 Z" fill="#c0654a"/>
<path d="M503.4,232.4 C506.4,232.4 508.59999999999997,237.0 508.59999999999997,239.6 C508.59999999999997,242.6 506.2,243.2 503.4,243.2 C500.59999999999997,243.2 498.2,242.6 498.2,239.6 C498.2,237.0 500.4,232.4 503.4,232.4 Z" fill="#c0654a"/>
<path d="M471.9,265.4 C474.9,265.4 477.09999999999997,270.0 477.09999999999997,272.6 C477.09999999999997,275.6 474.7,276.2 471.9,276.2 C469.09999999999997,276.2 466.7,275.6 466.7,272.6 C466.7,270.0 468.9,265.4 471.9,265.4 Z" fill="#c0654a"/>
<path d="M478.4,338.09999999999997 C481.4,338.09999999999997 483.59999999999997,342.7 483.59999999999997,345.3 C483.59999999999997,348.3 481.2,348.9 478.4,348.9 C475.59999999999997,348.9 473.2,348.3 473.2,345.3 C473.2,342.7 475.4,338.09999999999997 478.4,338.09999999999997 Z" fill="#c0654a"/>
<path d="M506,342.4 C509.0,342.4 511.2,347.0 511.2,349.6 C511.2,352.6 508.8,353.2 506,353.2 C503.2,353.2 500.8,352.6 500.8,349.6 C500.8,347.0 503.0,342.4 506,342.4 Z" fill="#c0654a"/>
<path d="M559.6,193.4 C562.6,193.4 564.8000000000001,198.0 564.8000000000001,200.6 C564.8000000000001,203.6 562.4,204.2 559.6,204.2 C556.8000000000001,204.2 554.4,203.6 554.4,200.6 C554.4,198.0 556.6,193.4 559.6,193.4 Z" fill="#c0654a"/>
<path d="M540.1,232.4 C543.1,232.4 545.3000000000001,237.0 545.3000000000001,239.6 C545.3000000000001,242.6 542.9,243.2 540.1,243.2 C537.3000000000001,243.2 534.9,242.6 534.9,239.6 C534.9,237.0 537.1,232.4 540.1,232.4 Z" fill="#c0654a"/>
<path d="M560.3,303.9 C563.3,303.9 565.5,308.5 565.5,311.1 C565.5,314.1 563.0999999999999,314.7 560.3,314.7 C557.5,314.7 555.0999999999999,314.1 555.0999999999999,311.1 C555.0999999999999,308.5 557.3,303.9 560.3,303.9 Z" fill="#c0654a"/>
<path d="M558.7,367.4 C561.7,367.4 563.9000000000001,372.0 563.9000000000001,374.6 C563.9000000000001,377.6 561.5,378.2 558.7,378.2 C555.9000000000001,378.2 553.5,377.6 553.5,374.6 C553.5,372.0 555.7,367.4 558.7,367.4 Z" fill="#c0654a"/>
<path d="M578.2,383.59999999999997 C581.2,383.59999999999997 583.4000000000001,388.2 583.4000000000001,390.8 C583.4000000000001,393.8 581.0,394.4 578.2,394.4 C575.4000000000001,394.4 573.0,393.8 573.0,390.8 C573.0,388.2 575.2,383.59999999999997 578.2,383.59999999999997 Z" fill="#c0654a"/>
<path d="M344.4,416.09999999999997 C347.4,416.09999999999997 349.59999999999997,420.7 349.59999999999997,423.3 C349.59999999999997,426.3 347.2,426.9 344.4,426.9 C341.59999999999997,426.9 339.2,426.3 339.2,423.3 C339.2,420.7 341.4,416.09999999999997 344.4,416.09999999999997 Z" fill="#c0654a"/>
<path d="M231,444.96 C233.7,444.96 235.68,449.1 235.68,451.44 C235.68,454.14 233.52,454.68 231,454.68 C228.48,454.68 226.32,454.14 226.32,451.44 C226.32,449.1 228.3,444.96 231,444.96 Z" fill="#e60012"/>
<path d="M265,475.96 C267.7,475.96 269.68,480.1 269.68,482.44 C269.68,485.14 267.52,485.68 265,485.68 C262.48,485.68 260.32,485.14 260.32,482.44 C260.32,480.1 262.3,475.96 265,475.96 Z" fill="#e60012"/>
<path d="M255,493.96 C257.7,493.96 259.68,498.1 259.68,500.44 C259.68,503.14 257.52,503.68 255,503.68 C252.48,503.68 250.32,503.14 250.32,500.44 C250.32,498.1 252.3,493.96 255,493.96 Z" fill="#e60012"/>
<path d="M512,461.96 C514.7,461.96 516.68,466.1 516.68,468.44 C516.68,471.14 514.52,471.68 512,471.68 C509.48,471.68 507.32,471.14 507.32,468.44 C507.32,466.1 509.3,461.96 512,461.96 Z" fill="#e60012"/>
<path d="M501,472.96 C503.7,472.96 505.68,477.1 505.68,479.44 C505.68,482.14 503.52,482.68 501,482.68 C498.48,482.68 496.32,482.14 496.32,479.44 C496.32,477.1 498.3,472.96 501,472.96 Z" fill="#e60012"/>
<text x="187" y="148" font-size="24" font-weight="bold" fill="#231815" text-anchor="start" textLength="129.5" lengthAdjust="spacingAndGlyphs" >Stover return</text>
<text x="457" y="141.7" font-size="24" font-weight="bold" fill="#231815" text-anchor="start" textLength="146" lengthAdjust="spacingAndGlyphs" >Stover removal</text>
<text x="673.5" y="57.6" font-size="22" font-weight="bold" fill="#231815" text-anchor="start" textLength="100" lengthAdjust="spacingAndGlyphs" >Field plots</text>
<rect x="665.5" y="71" width="59.0" height="121" fill="#4aa3dc"/>
<rect x="724.5" y="71" width="59.0" height="121" fill="#76b82a"/>
<rect x="665.5" y="192" width="59.0" height="121" fill="#76b82a"/>
<rect x="724.5" y="192" width="59.0" height="121" fill="#4aa3dc"/>
<rect x="665.5" y="313" width="59.0" height="122" fill="#4aa3dc"/>
<rect x="724.5" y="313" width="59.0" height="122" fill="#76b82a"/>
<g fill="#ffffff" stroke="#d2e04a" stroke-width="1.5"><circle cx="677.5" cy="77.00" r="3.4"/><circle cx="689.5" cy="77.00" r="3.4"/><circle cx="701.5" cy="77.00" r="3.4"/><circle cx="713.2" cy="77.00" r="3.4"/><circle cx="738.5" cy="77.00" r="3.4"/><circle cx="750.5" cy="77.00" r="3.4"/><circle cx="762.2" cy="77.00" r="3.4"/><circle cx="774.1" cy="77.00" r="3.4"/><circle cx="677.5" cy="84.79" r="3.4"/><circle cx="689.5" cy="84.79" r="3.4"/><circle cx="701.5" cy="84.79" r="3.4"/><circle cx="713.2" cy="84.79" r="3.4"/><circle cx="738.5" cy="84.79" r="3.4"/><circle cx="750.5" cy="84.79" r="3.4"/><circle cx="762.2" cy="84.79" r="3.4"/><circle cx="774.1" cy="84.79" r="3.4"/><circle cx="677.5" cy="92.57" r="3.4"/><circle cx="689.5" cy="92.57" r="3.4"/><circle cx="701.5" cy="92.57" r="3.4"/><circle cx="713.2" cy="92.57" r="3.4"/><circle cx="738.5" cy="92.57" r="3.4"/><circle cx="750.5" cy="92.57" r="3.4"/><circle cx="762.2" cy="92.57" r="3.4"/><circle cx="774.1" cy="92.57" r="3.4"/><circle cx="677.5" cy="100.36" r="3.4"/><circle cx="689.5" cy="100.36" r="3.4"/><circle cx="701.5" cy="100.36" r="3.4"/><circle cx="713.2" cy="100.36" r="3.4"/><circle cx="738.5" cy="100.36" r="3.4"/><circle cx="750.5" cy="100.36" r="3.4"/><circle cx="762.2" cy="100.36" r="3.4"/><circle cx="774.1" cy="100.36" r="3.4"/><circle cx="677.5" cy="108.14" r="3.4"/><circle cx="689.5" cy="108.14" r="3.4"/><circle cx="701.5" cy="108.14" r="3.4"/><circle cx="713.2" cy="108.14" r="3.4"/><circle cx="738.5" cy="108.14" r="3.4"/><circle cx="750.5" cy="108.14" r="3.4"/><circle cx="762.2" cy="108.14" r="3.4"/><circle cx="774.1" cy="108.14" r="3.4"/><circle cx="677.5" cy="115.93" r="3.4"/><circle cx="689.5" cy="115.93" r="3.4"/><circle cx="701.5" cy="115.93" r="3.4"/><circle cx="713.2" cy="115.93" r="3.4"/><circle cx="738.5" cy="115.93" r="3.4"/><circle cx="750.5" cy="115.93" r="3.4"/><circle cx="762.2" cy="115.93" r="3.4"/><circle cx="774.1" cy="115.93" r="3.4"/><circle cx="677.5" cy="123.71" r="3.4"/><circle cx="689.5" cy="123.71" r="3.4"/><circle cx="701.5" cy="123.71" r="3.4"/><circle cx="713.2" cy="123.71" r="3.4"/><circle cx="738.5" cy="123.71" r="3.4"/><circle cx="750.5" cy="123.71" r="3.4"/><circle cx="762.2" cy="123.71" r="3.4"/><circle cx="774.1" cy="123.71" r="3.4"/><circle cx="677.5" cy="131.50" r="3.4"/><circle cx="689.5" cy="131.50" r="3.4"/><circle cx="701.5" cy="131.50" r="3.4"/><circle cx="713.2" cy="131.50" r="3.4"/><circle cx="738.5" cy="131.50" r="3.4"/><circle cx="750.5" cy="131.50" r="3.4"/><circle cx="762.2" cy="131.50" r="3.4"/><circle cx="774.1" cy="131.50" r="3.4"/><circle cx="677.5" cy="139.29" r="3.4"/><circle cx="689.5" cy="139.29" r="3.4"/><circle cx="701.5" cy="139.29" r="3.4"/><circle cx="713.2" cy="139.29" r="3.4"/><circle cx="738.5" cy="139.29" r="3.4"/><circle cx="750.5" cy="139.29" r="3.4"/><circle cx="762.2" cy="139.29" r="3.4"/><circle cx="774.1" cy="139.29" r="3.4"/><circle cx="677.5" cy="147.07" r="3.4"/><circle cx="689.5" cy="147.07" r="3.4"/><circle cx="701.5" cy="147.07" r="3.4"/><circle cx="713.2" cy="147.07" r="3.4"/><circle cx="738.5" cy="147.07" r="3.4"/><circle cx="750.5" cy="147.07" r="3.4"/><circle cx="762.2" cy="147.07" r="3.4"/><circle cx="774.1" cy="147.07" r="3.4"/><circle cx="677.5" cy="154.86" r="3.4"/><circle cx="689.5" cy="154.86" r="3.4"/><circle cx="701.5" cy="154.86" r="3.4"/><circle cx="713.2" cy="154.86" r="3.4"/><circle cx="738.5" cy="154.86" r="3.4"/><circle cx="750.5" cy="154.86" r="3.4"/><circle cx="762.2" cy="154.86" r="3.4"/><circle cx="774.1" cy="154.86" r="3.4"/><circle cx="677.5" cy="162.64" r="3.4"/><circle cx="689.5" cy="162.64" r="3.4"/><circle cx="701.5" cy="162.64" r="3.4"/><circle cx="713.2" cy="162.64" r="3.4"/><circle cx="738.5" cy="162.64" r="3.4"/><circle cx="750.5" cy="162.64" r="3.4"/><circle cx="762.2" cy="162.64" r="3.4"/><circle cx="774.1" cy="162.64" r="3.4"/><circle cx="677.5" cy="170.43" r="3.4"/><circle cx="689.5" cy="170.43" r="3.4"/><circle cx="701.5" cy="170.43" r="3.4"/><circle cx="713.2" cy="170.43" r="3.4"/><circle cx="738.5" cy="170.43" r="3.4"/><circle cx="750.5" cy="170.43" r="3.4"/><circle cx="762.2" cy="170.43" r="3.4"/><circle cx="774.1" cy="170.43" r="3.4"/><circle cx="677.5" cy="178.21" r="3.4"/><circle cx="689.5" cy="178.21" r="3.4"/><circle cx="701.5" cy="178.21" r="3.4"/><circle cx="713.2" cy="178.21" r="3.4"/><circle cx="738.5" cy="178.21" r="3.4"/><circle cx="750.5" cy="178.21" r="3.4"/><circle cx="762.2" cy="178.21" r="3.4"/><circle cx="774.1" cy="178.21" r="3.4"/><circle cx="677.5" cy="186.00" r="3.4"/><circle cx="689.5" cy="186.00" r="3.4"/><circle cx="701.5" cy="186.00" r="3.4"/><circle cx="713.2" cy="186.00" r="3.4"/><circle cx="738.5" cy="186.00" r="3.4"/><circle cx="750.5" cy="186.00" r="3.4"/><circle cx="762.2" cy="186.00" r="3.4"/><circle cx="774.1" cy="186.00" r="3.4"/><circle cx="677.5" cy="198.00" r="3.4"/><circle cx="689.5" cy="198.00" r="3.4"/><circle cx="701.5" cy="198.00" r="3.4"/><circle cx="713.2" cy="198.00" r="3.4"/><circle cx="738.5" cy="198.00" r="3.4"/><circle cx="750.5" cy="198.00" r="3.4"/><circle cx="762.2" cy="198.00" r="3.4"/><circle cx="774.1" cy="198.00" r="3.4"/><circle cx="677.5" cy="205.79" r="3.4"/><circle cx="689.5" cy="205.79" r="3.4"/><circle cx="701.5" cy="205.79" r="3.4"/><circle cx="713.2" cy="205.79" r="3.4"/><circle cx="738.5" cy="205.79" r="3.4"/><circle cx="750.5" cy="205.79" r="3.4"/><circle cx="762.2" cy="205.79" r="3.4"/><circle cx="774.1" cy="205.79" r="3.4"/><circle cx="677.5" cy="213.57" r="3.4"/><circle cx="689.5" cy="213.57" r="3.4"/><circle cx="701.5" cy="213.57" r="3.4"/><circle cx="713.2" cy="213.57" r="3.4"/><circle cx="738.5" cy="213.57" r="3.4"/><circle cx="750.5" cy="213.57" r="3.4"/><circle cx="762.2" cy="213.57" r="3.4"/><circle cx="774.1" cy="213.57" r="3.4"/><circle cx="677.5" cy="221.36" r="3.4"/><circle cx="689.5" cy="221.36" r="3.4"/><circle cx="701.5" cy="221.36" r="3.4"/><circle cx="713.2" cy="221.36" r="3.4"/><circle cx="738.5" cy="221.36" r="3.4"/><circle cx="750.5" cy="221.36" r="3.4"/><circle cx="762.2" cy="221.36" r="3.4"/><circle cx="774.1" cy="221.36" r="3.4"/><circle cx="677.5" cy="229.14" r="3.4"/><circle cx="689.5" cy="229.14" r="3.4"/><circle cx="701.5" cy="229.14" r="3.4"/><circle cx="713.2" cy="229.14" r="3.4"/><circle cx="738.5" cy="229.14" r="3.4"/><circle cx="750.5" cy="229.14" r="3.4"/><circle cx="762.2" cy="229.14" r="3.4"/><circle cx="774.1" cy="229.14" r="3.4"/><circle cx="677.5" cy="236.93" r="3.4"/><circle cx="689.5" cy="236.93" r="3.4"/><circle cx="701.5" cy="236.93" r="3.4"/><circle cx="713.2" cy="236.93" r="3.4"/><circle cx="738.5" cy="236.93" r="3.4"/><circle cx="750.5" cy="236.93" r="3.4"/><circle cx="762.2" cy="236.93" r="3.4"/><circle cx="774.1" cy="236.93" r="3.4"/><circle cx="677.5" cy="244.71" r="3.4"/><circle cx="689.5" cy="244.71" r="3.4"/><circle cx="701.5" cy="244.71" r="3.4"/><circle cx="713.2" cy="244.71" r="3.4"/><circle cx="738.5" cy="244.71" r="3.4"/><circle cx="750.5" cy="244.71" r="3.4"/><circle cx="762.2" cy="244.71" r="3.4"/><circle cx="774.1" cy="244.71" r="3.4"/><circle cx="677.5" cy="252.50" r="3.4"/><circle cx="689.5" cy="252.50" r="3.4"/><circle cx="701.5" cy="252.50" r="3.4"/><circle cx="713.2" cy="252.50" r="3.4"/><circle cx="738.5" cy="252.50" r="3.4"/><circle cx="750.5" cy="252.50" r="3.4"/><circle cx="762.2" cy="252.50" r="3.4"/><circle cx="774.1" cy="252.50" r="3.4"/><circle cx="677.5" cy="260.29" r="3.4"/><circle cx="689.5" cy="260.29" r="3.4"/><circle cx="701.5" cy="260.29" r="3.4"/><circle cx="713.2" cy="260.29" r="3.4"/><circle cx="738.5" cy="260.29" r="3.4"/><circle cx="750.5" cy="260.29" r="3.4"/><circle cx="762.2" cy="260.29" r="3.4"/><circle cx="774.1" cy="260.29" r="3.4"/><circle cx="677.5" cy="268.07" r="3.4"/><circle cx="689.5" cy="268.07" r="3.4"/><circle cx="701.5" cy="268.07" r="3.4"/><circle cx="713.2" cy="268.07" r="3.4"/><circle cx="738.5" cy="268.07" r="3.4"/><circle cx="750.5" cy="268.07" r="3.4"/><circle cx="762.2" cy="268.07" r="3.4"/><circle cx="774.1" cy="268.07" r="3.4"/><circle cx="677.5" cy="275.86" r="3.4"/><circle cx="689.5" cy="275.86" r="3.4"/><circle cx="701.5" cy="275.86" r="3.4"/><circle cx="713.2" cy="275.86" r="3.4"/><circle cx="738.5" cy="275.86" r="3.4"/><circle cx="750.5" cy="275.86" r="3.4"/><circle cx="762.2" cy="275.86" r="3.4"/><circle cx="774.1" cy="275.86" r="3.4"/><circle cx="677.5" cy="283.64" r="3.4"/><circle cx="689.5" cy="283.64" r="3.4"/><circle cx="701.5" cy="283.64" r="3.4"/><circle cx="713.2" cy="283.64" r="3.4"/><circle cx="738.5" cy="283.64" r="3.4"/><circle cx="750.5" cy="283.64" r="3.4"/><circle cx="762.2" cy="283.64" r="3.4"/><circle cx="774.1" cy="283.64" r="3.4"/><circle cx="677.5" cy="291.43" r="3.4"/><circle cx="689.5" cy="291.43" r="3.4"/><circle cx="701.5" cy="291.43" r="3.4"/><circle cx="713.2" cy="291.43" r="3.4"/><circle cx="738.5" cy="291.43" r="3.4"/><circle cx="750.5" cy="291.43" r="3.4"/><circle cx="762.2" cy="291.43" r="3.4"/><circle cx="774.1" cy="291.43" r="3.4"/><circle cx="677.5" cy="299.21" r="3.4"/><circle cx="689.5" cy="299.21" r="3.4"/><circle cx="701.5" cy="299.21" r="3.4"/><circle cx="713.2" cy="299.21" r="3.4"/><circle cx="738.5" cy="299.21" r="3.4"/><circle cx="750.5" cy="299.21" r="3.4"/><circle cx="762.2" cy="299.21" r="3.4"/><circle cx="774.1" cy="299.21" r="3.4"/><circle cx="677.5" cy="307.00" r="3.4"/><circle cx="689.5" cy="307.00" r="3.4"/><circle cx="701.5" cy="307.00" r="3.4"/><circle cx="713.2" cy="307.00" r="3.4"/><circle cx="738.5" cy="307.00" r="3.4"/><circle cx="750.5" cy="307.00" r="3.4"/><circle cx="762.2" cy="307.00" r="3.4"/><circle cx="774.1" cy="307.00" r="3.4"/><circle cx="677.5" cy="319.00" r="3.4"/><circle cx="689.5" cy="319.00" r="3.4"/><circle cx="701.5" cy="319.00" r="3.4"/><circle cx="713.2" cy="319.00" r="3.4"/><circle cx="738.5" cy="319.00" r="3.4"/><circle cx="750.5" cy="319.00" r="3.4"/><circle cx="762.2" cy="319.00" r="3.4"/><circle cx="774.1" cy="319.00" r="3.4"/><circle cx="677.5" cy="326.86" r="3.4"/><circle cx="689.5" cy="326.86" r="3.4"/><circle cx="701.5" cy="326.86" r="3.4"/><circle cx="713.2" cy="326.86" r="3.4"/><circle cx="738.5" cy="326.86" r="3.4"/><circle cx="750.5" cy="326.86" r="3.4"/><circle cx="762.2" cy="326.86" r="3.4"/><circle cx="774.1" cy="326.86" r="3.4"/><circle cx="677.5" cy="334.71" r="3.4"/><circle cx="689.5" cy="334.71" r="3.4"/><circle cx="701.5" cy="334.71" r="3.4"/><circle cx="713.2" cy="334.71" r="3.4"/><circle cx="738.5" cy="334.71" r="3.4"/><circle cx="750.5" cy="334.71" r="3.4"/><circle cx="762.2" cy="334.71" r="3.4"/><circle cx="774.1" cy="334.71" r="3.4"/><circle cx="677.5" cy="342.57" r="3.4"/><circle cx="689.5" cy="342.57" r="3.4"/><circle cx="701.5" cy="342.57" r="3.4"/><circle cx="713.2" cy="342.57" r="3.4"/><circle cx="738.5" cy="342.57" r="3.4"/><circle cx="750.5" cy="342.57" r="3.4"/><circle cx="762.2" cy="342.57" r="3.4"/><circle cx="774.1" cy="342.57" r="3.4"/><circle cx="677.5" cy="350.43" r="3.4"/><circle cx="689.5" cy="350.43" r="3.4"/><circle cx="701.5" cy="350.43" r="3.4"/><circle cx="713.2" cy="350.43" r="3.4"/><circle cx="738.5" cy="350.43" r="3.4"/><circle cx="750.5" cy="350.43" r="3.4"/><circle cx="762.2" cy="350.43" r="3.4"/><circle cx="774.1" cy="350.43" r="3.4"/><circle cx="677.5" cy="358.29" r="3.4"/><circle cx="689.5" cy="358.29" r="3.4"/><circle cx="701.5" cy="358.29" r="3.4"/><circle cx="713.2" cy="358.29" r="3.4"/><circle cx="738.5" cy="358.29" r="3.4"/><circle cx="750.5" cy="358.29" r="3.4"/><circle cx="762.2" cy="358.29" r="3.4"/><circle cx="774.1" cy="358.29" r="3.4"/><circle cx="677.5" cy="366.14" r="3.4"/><circle cx="689.5" cy="366.14" r="3.4"/><circle cx="701.5" cy="366.14" r="3.4"/><circle cx="713.2" cy="366.14" r="3.4"/><circle cx="738.5" cy="366.14" r="3.4"/><circle cx="750.5" cy="366.14" r="3.4"/><circle cx="762.2" cy="366.14" r="3.4"/><circle cx="774.1" cy="366.14" r="3.4"/><circle cx="677.5" cy="374.00" r="3.4"/><circle cx="689.5" cy="374.00" r="3.4"/><circle cx="701.5" cy="374.00" r="3.4"/><circle cx="713.2" cy="374.00" r="3.4"/><circle cx="738.5" cy="374.00" r="3.4"/><circle cx="750.5" cy="374.00" r="3.4"/><circle cx="762.2" cy="374.00" r="3.4"/><circle cx="774.1" cy="374.00" r="3.4"/><circle cx="677.5" cy="381.86" r="3.4"/><circle cx="689.5" cy="381.86" r="3.4"/><circle cx="701.5" cy="381.86" r="3.4"/><circle cx="713.2" cy="381.86" r="3.4"/><circle cx="738.5" cy="381.86" r="3.4"/><circle cx="750.5" cy="381.86" r="3.4"/><circle cx="762.2" cy="381.86" r="3.4"/><circle cx="774.1" cy="381.86" r="3.4"/><circle cx="677.5" cy="389.71" r="3.4"/><circle cx="689.5" cy="389.71" r="3.4"/><circle cx="701.5" cy="389.71" r="3.4"/><circle cx="713.2" cy="389.71" r="3.4"/><circle cx="738.5" cy="389.71" r="3.4"/><circle cx="750.5" cy="389.71" r="3.4"/><circle cx="762.2" cy="389.71" r="3.4"/><circle cx="774.1" cy="389.71" r="3.4"/><circle cx="677.5" cy="397.57" r="3.4"/><circle cx="689.5" cy="397.57" r="3.4"/><circle cx="701.5" cy="397.57" r="3.4"/><circle cx="713.2" cy="397.57" r="3.4"/><circle cx="738.5" cy="397.57" r="3.4"/><circle cx="750.5" cy="397.57" r="3.4"/><circle cx="762.2" cy="397.57" r="3.4"/><circle cx="774.1" cy="397.57" r="3.4"/><circle cx="677.5" cy="405.43" r="3.4"/><circle cx="689.5" cy="405.43" r="3.4"/><circle cx="701.5" cy="405.43" r="3.4"/><circle cx="713.2" cy="405.43" r="3.4"/><circle cx="738.5" cy="405.43" r="3.4"/><circle cx="750.5" cy="405.43" r="3.4"/><circle cx="762.2" cy="405.43" r="3.4"/><circle cx="774.1" cy="405.43" r="3.4"/><circle cx="677.5" cy="413.29" r="3.4"/><circle cx="689.5" cy="413.29" r="3.4"/><circle cx="701.5" cy="413.29" r="3.4"/><circle cx="713.2" cy="413.29" r="3.4"/><circle cx="738.5" cy="413.29" r="3.4"/><circle cx="750.5" cy="413.29" r="3.4"/><circle cx="762.2" cy="413.29" r="3.4"/><circle cx="774.1" cy="413.29" r="3.4"/><circle cx="677.5" cy="421.14" r="3.4"/><circle cx="689.5" cy="421.14" r="3.4"/><circle cx="701.5" cy="421.14" r="3.4"/><circle cx="713.2" cy="421.14" r="3.4"/><circle cx="738.5" cy="421.14" r="3.4"/><circle cx="750.5" cy="421.14" r="3.4"/><circle cx="762.2" cy="421.14" r="3.4"/><circle cx="774.1" cy="421.14" r="3.4"/><circle cx="677.5" cy="429.00" r="3.4"/><circle cx="689.5" cy="429.00" r="3.4"/><circle cx="701.5" cy="429.00" r="3.4"/><circle cx="713.2" cy="429.00" r="3.4"/><circle cx="738.5" cy="429.00" r="3.4"/><circle cx="750.5" cy="429.00" r="3.4"/><circle cx="762.2" cy="429.00" r="3.4"/><circle cx="774.1" cy="429.00" r="3.4"/></g>
<g stroke="#231815" fill="none"><rect x="665.5" y="71" width="118.0" height="364" stroke-width="1.6"/><line x1="724.5" y1="71" x2="724.5" y2="435" stroke-width="2.6"/><line x1="665.5" y1="192" x2="783.5" y2="192" stroke-width="2.2"/><line x1="665.5" y1="313" x2="783.5" y2="313" stroke-width="2.2"/><rect x="708.5" y="136" width="35" height="22.5" stroke-width="1.3"/><rect x="707.5" y="226" width="35" height="22.5" stroke-width="1.3"/><rect x="707.5" y="355.5" width="35" height="22.5" stroke-width="1.3"/><line x1="717.7" y1="158.5" x2="647" y2="250" stroke-width="1.2"/></g>
<path d="M644.2,253.4 L646.5,241.5 L649.5,247 L655,249.5 Z" fill="#231815"/>
<path d="M803.5,65 C809,65 812.8,72 812.8,78 C812.8,82.5 808.5,84 803.5,84 C798.5,84 794.2,82.5 794.2,78 C794.2,72 798,65 803.5,65Z" fill="#e60012"/>
<text x="818" y="78.5" font-size="16" font-weight="normal" fill="#231815" text-anchor="start" textLength="79" lengthAdjust="spacingAndGlyphs" >Carbon flow</text>
<rect x="792.8" y="96.6" width="21.7" height="24.7" fill="#4aa3dc" stroke="#231815" stroke-width="1.1"/>
<text x="822.5" y="114.5" font-size="16" font-weight="normal" fill="#231815" text-anchor="start" textLength="21.5" lengthAdjust="spacingAndGlyphs" >CK</text>
<rect x="792.8" y="130.6" width="21.7" height="24.7" fill="#76b82a" stroke="#231815" stroke-width="1.1"/>
<text x="822.5" y="150.8" font-size="16" font-weight="normal" fill="#231815" text-anchor="start" textLength="19.5" lengthAdjust="spacingAndGlyphs" >SR</text>
<circle cx="800.4" cy="175.6" r="4.3" fill="none" stroke="#d5e35a" stroke-width="1"/><circle cx="811.3" cy="175.6" r="4.3" fill="none" stroke="#d5e35a" stroke-width="1"/>
<text x="822.5" y="182" font-size="16" font-weight="normal" fill="#231815" text-anchor="start" textLength="39.5" lengthAdjust="spacingAndGlyphs" >Maize</text>
<rect x="793" y="191.8" width="21.5" height="15.6" fill="#fff" stroke="#231815" stroke-width="1.1"/>
<text x="822.5" y="207.2" font-size="16" font-weight="normal" fill="#231815" text-anchor="start" textLength="96.5" lengthAdjust="spacingAndGlyphs" >Labeling maize</text>
<circle cx="107.9" cy="460.5" r="13.2" fill="none" stroke="#231815" stroke-width="1"/>
<text x="107.9" y="467.7" font-size="20" font-weight="normal" fill="#231815" text-anchor="middle" >1</text>
<rect x="129.8" y="448.1" width="63" height="26.5" rx="8" fill="#1d2088"/>
<text x="138.5" y="467.7" font-size="21" font-weight="bold" fill="#ffffff" text-anchor="start" textLength="48.5" lengthAdjust="spacingAndGlyphs" >plant</text>
<circle cx="303" cy="460.4" r="13.4" fill="none" stroke="#231815" stroke-width="1"/>
<text x="303" y="467.7" font-size="20" font-weight="normal" fill="#231815" text-anchor="middle" >2</text>
<rect x="320.5" y="448.4" width="144.7" height="26" rx="8" fill="#1d2088"/>
<text x="329.5" y="467.5" font-size="21" font-weight="bold" fill="#ffffff" text-anchor="start" textLength="125" lengthAdjust="spacingAndGlyphs" >soil food web</text>
<circle cx="634.2" cy="460.5" r="13.3" fill="none" stroke="#231815" stroke-width="1"/>
<text x="634.2" y="467.7" font-size="20" font-weight="normal" fill="#231815" text-anchor="middle" >3</text>
<rect x="656.9" y="448" width="119.9" height="26.2" rx="8" fill="#1d2088"/>
<text x="663.5" y="467.6" font-size="21" font-weight="bold" fill="#ffffff" text-anchor="start" textLength="106" lengthAdjust="spacingAndGlyphs" >soil carbon</text>
<rect x="161" y="492.5" width="15.4" height="347" fill="url(#trans)"/>
<path d="M161,823.5 L572,823.5 L572,814.5 L591,831.5 L572,849 L572,839.5 L161,839.5 Z" fill="url(#seq)"/>
<rect x="161" y="492.5" width="15.4" height="347" fill="url(#trans)"/>
<text x="20" y="659.8" font-size="20" font-weight="bold" fill="#231815" text-anchor="start" textLength="130.5" lengthAdjust="spacingAndGlyphs" >transformation</text>
<text x="331.5" y="855.7" font-size="20" font-weight="bold" fill="#231815" text-anchor="start" textLength="115.5" lengthAdjust="spacingAndGlyphs" >sequestration</text>
<line x1="183" y1="508.4" x2="603.4" y2="508.4" stroke="#231815" stroke-width="1.3" stroke-dasharray="13.14 13.14" stroke-dashoffset="6.57"/>
<line x1="603.4" y1="508.4" x2="603.4" y2="813.2" stroke="#231815" stroke-width="1.3" stroke-dasharray="13.85 13.85" stroke-dashoffset="6.93"/>
<line x1="603.4" y1="813.2" x2="183" y2="813.2" stroke="#231815" stroke-width="1.3" stroke-dasharray="13.14 13.14" stroke-dashoffset="6.57"/>
<line x1="183" y1="813.2" x2="183" y2="508.4" stroke="#231815" stroke-width="1.3" stroke-dasharray="13.85 13.85" stroke-dashoffset="6.93"/>
<path d="M183,515.9272727272727 V508.4 H190.52727272727273 M595.8727272727273,508.4 H603.4 V515.9272727272727 M603.4,805.6727272727273 V813.2 H595.8727272727273 M190.52727272727273,813.2 H183 V805.6727272727273" fill="none" stroke="#231815" stroke-width="1.3" stroke-linejoin="miter"/>
<line x1="627.8" y1="508.3" x2="806.6" y2="508.3" stroke="#231815" stroke-width="1.3" stroke-dasharray="12.77 12.77" stroke-dashoffset="6.39"/>
<line x1="806.6" y1="508.3" x2="806.6" y2="832.5" stroke="#231815" stroke-width="1.3" stroke-dasharray="13.51 13.51" stroke-dashoffset="6.75"/>
<line x1="806.6" y1="832.5" x2="627.8" y2="832.5" stroke="#231815" stroke-width="1.3" stroke-dasharray="12.77 12.77" stroke-dashoffset="6.39"/>
<line x1="627.8" y1="832.5" x2="627.8" y2="508.3" stroke="#231815" stroke-width="1.3" stroke-dasharray="13.51 13.51" stroke-dashoffset="6.75"/>
<path d="M627.8,515.6541666666667 V508.3 H635.1541666666667 M799.2458333333333,508.3 H806.6 V515.6541666666667 M806.6,825.1458333333333 V832.5 H799.2458333333333 M635.1541666666667,832.5 H627.8 V825.1458333333333" fill="none" stroke="#231815" stroke-width="1.3" stroke-linejoin="miter"/>
<rect x="259.3" y="534.6" width="239.0" height="60.0" rx="25" fill="none" stroke="#231815" stroke-width="1.2"/>
<rect x="246.9" y="617.6" width="136.1" height="59.39999999999998" rx="25" fill="none" stroke="#231815" stroke-width="1.2"/>
<rect x="399.2" y="617.6" width="137.3" height="59.39999999999998" rx="25" fill="none" stroke="#231815" stroke-width="1.2"/>
<rect x="188.4" y="718.7" width="407.4" height="88.89999999999998" rx="22" fill="none" stroke="#231815" stroke-width="1.2"/>
<rect x="658.3" y="551.8" width="121.5" height="90.40000000000009" rx="30" fill="none" stroke="#231815" stroke-width="1.2"/>
<rect x="657" y="676" width="121" height="90.29999999999995" rx="30" fill="none" stroke="#231815" stroke-width="1.2"/>
<text x="348" y="525.8" font-size="21" font-weight="bold" fill="#231815" text-anchor="start" textLength="91.5" lengthAdjust="spacingAndGlyphs" >microflora</text>
<text x="342" y="613" font-size="20" font-weight="bold" fill="#231815" text-anchor="start" textLength="98" lengthAdjust="spacingAndGlyphs" >microfauna</text>
<text x="352" y="699.3" font-size="20" font-weight="bold" fill="#231815" text-anchor="start" textLength="92.5" lengthAdjust="spacingAndGlyphs" >mesofauna</text>
<text x="697" y="547" font-size="21" font-weight="bold" fill="#231815" text-anchor="start" textLength="42" lengthAdjust="spacingAndGlyphs" >POC</text>
<text x="688" y="668.8" font-size="20" font-weight="bold" fill="#231815" text-anchor="start" textLength="63" lengthAdjust="spacingAndGlyphs" >MAOC</text>
<text x="305.5" y="550" font-size="15.5" font-weight="normal" fill="#231815" text-anchor="start" textLength="36.5" lengthAdjust="spacingAndGlyphs" >Fungi</text>
<text x="396.5" y="552.6" font-size="15.5" font-weight="normal" fill="#231815" text-anchor="start" textLength="51" lengthAdjust="spacingAndGlyphs" >Bacteria</text>
<text x="269" y="634.2" font-size="16" font-weight="normal" fill="#231815" text-anchor="start" textLength="91.5" lengthAdjust="spacingAndGlyphs" >Plant parasites</text>
<text x="421.8" y="634" font-size="16" font-weight="normal" fill="#231815" text-anchor="start" textLength="93.5" lengthAdjust="spacingAndGlyphs" >Microbivorous</text>
<text x="200" y="733.1" font-size="16" font-weight="normal" fill="#231815" text-anchor="start" textLength="78.5" lengthAdjust="spacingAndGlyphs" >Omnivores–</text>
<text x="200.5" y="752.4" font-size="16" font-weight="normal" fill="#231815" text-anchor="start" textLength="58.5" lengthAdjust="spacingAndGlyphs" >predators</text>
<text x="291.3" y="737.9" font-size="16" font-weight="normal" fill="#231815" text-anchor="start" textLength="49.5" lengthAdjust="spacingAndGlyphs" >Acarina</text>
<text x="352" y="737.9" font-size="16" font-weight="normal" fill="#231815" text-anchor="start" textLength="82" lengthAdjust="spacingAndGlyphs" >Enchytreidae</text>
<text x="442.3" y="737.4" font-size="16" font-weight="normal" fill="#231815" text-anchor="start" textLength="72.5" lengthAdjust="spacingAndGlyphs" >Collembola</text>
<text x="518.7" y="736.2" font-size="16" font-weight="normal" fill="#231815" text-anchor="start" textLength="68" lengthAdjust="spacingAndGlyphs" >Coleoptera</text>
<line x1="255.4" y1="474" x2="255.4" y2="518.0" stroke="#231815" stroke-width="1.2"/>
<path d="M255.4,525 L250.9,516.0 L255.4,519.0 L259.9,516.0 Z" fill="#231815"/>
<line x1="500" y1="474" x2="500.0" y2="518.0" stroke="#231815" stroke-width="1.2"/>
<path d="M500,525 L495.5,516.0 L500.0,519.0 L504.5,516.0 Z" fill="#231815"/>
<line x1="323" y1="594.6" x2="309.1" y2="609.4" stroke="#231815" stroke-width="2.3"/>
<path d="M303,616 L306.5,604.2 L308.5,610.2 L314.5,611.7 Z" fill="#231815"/>
<line x1="468" y1="594.6" x2="481.0" y2="609.3" stroke="#231815" stroke-width="2.3"/>
<path d="M487,616 L475.6,611.4 L481.7,610.0 L483.8,604.1 Z" fill="#231815"/>
<line x1="309" y1="677" x2="320.0" y2="693.5" stroke="#231815" stroke-width="2.3"/>
<path d="M325,701 L314.3,694.9 L320.6,694.3 L323.5,688.8 Z" fill="#231815"/>
<line x1="482" y1="677" x2="471.8" y2="693.4" stroke="#231815" stroke-width="2.3"/>
<path d="M467,701 L468.2,688.8 L471.2,694.2 L477.5,694.6 Z" fill="#231815"/>
<line x1="589" y1="648.5" x2="619.0" y2="648.5" stroke="#231815" stroke-width="1"/>
<path d="M625,648.5 L617.0,652.5 L620.0,648.5 L617.0,644.5 Z" fill="#231815"/>
<path d="M546.4,513.7 H611.2 V436" fill="none" stroke="#231815" stroke-width="1.3"/>
<path d="M611.2,427.6 L606.5,439 L611.2,436.5 L615.9,439 Z" fill="#231815"/>
<text x="599.3" y="420.3" font-size="20.5" font-weight="normal" fill="#231815" text-anchor="start" >CO<tspan font-size="11" dx="1" dy="6">2</tspan></text>
<text x="276.5" y="194.5" font-size="15.5" font-weight="normal" fill="#231815" text-anchor="start" ><tspan font-size="9.5" dy="-5">13</tspan><tspan dy="5">CO</tspan><tspan font-size="10" dy="3.5">2</tspan></text>
<text x="509.5" y="192.5" font-size="15.5" font-weight="normal" fill="#231815" text-anchor="start" ><tspan font-size="9.5" dy="-5">13</tspan><tspan dy="5">CO</tspan><tspan font-size="10" dy="3.5">2</tspan></text>
<text x="395.5" y="349" font-size="16.5" font-weight="normal" fill="#231815" text-anchor="start" >Na<tspan font-size="10" dy="3.5">2</tspan><tspan font-size="10" dx="1" dy="-9.5">13</tspan><tspan dy="6">CO</tspan><tspan font-size="10" dy="3.5">3</tspan></text>
<line x1="297" y1="200" x2="297.0" y2="224.0" stroke="#231815" stroke-width="1.4"/>
<path d="M297,231 L292.5,222.0 L297.0,225.0 L301.5,222.0 Z" fill="#231815"/>
<line x1="528.4" y1="197.5" x2="528.4" y2="221.5" stroke="#231815" stroke-width="1.4"/>
<path d="M528.4,228.5 L523.9,219.5 L528.4,222.5 L532.9,219.5 Z" fill="#231815"/>
<g transform="rotate(-18 292.7 570.2)"><path d="M305.7,570.2 L310.0,571.6 M304.7,572.5 L307.7,575.1 M301.9,574.4 L303.1,577.8 M297.7,575.7 L296.9,579.4 M292.7,576.2 L290.1,579.6 M287.7,575.7 L283.7,578.3 M283.5,574.4 L278.6,575.8 M280.7,572.5 L275.7,572.5 M279.7,570.2 L275.4,568.8 M280.7,567.9 L277.7,565.3 M283.5,566.0 L282.3,562.6 M287.7,564.7 L288.5,561.0 M292.7,564.2 L295.3,560.8 M297.7,564.7 L301.7,562.1 M301.9,566.0 L306.8,564.6 M304.7,567.9 L309.7,567.9" stroke="#3aa64a" stroke-width="1.2" fill="none"/><ellipse cx="292.7" cy="570.2" rx="13.5" ry="6.5" fill="#8fd07e" stroke="#36a244" stroke-width="1.2"/><ellipse cx="293.7" cy="570.2" rx="8" ry="3.6" fill="none" stroke="#2e9a3e" stroke-width="1"/></g>
<circle cx="289.7" cy="571.2" r="3.3" fill="#e60012"/>
<g transform="rotate(-18 341.8 569.2)"><path d="M354.8,569.2 L359.1,570.6 M353.8,571.5 L356.8,574.1 M351.0,573.4 L352.2,576.8 M346.8,574.7 L346.0,578.4 M341.8,575.2 L339.2,578.6 M336.8,574.7 L332.8,577.3 M332.6,573.4 L327.7,574.8 M329.8,571.5 L324.8,571.5 M328.8,569.2 L324.5,567.8 M329.8,566.9 L326.8,564.3 M332.6,565.0 L331.4,561.6 M336.8,563.7 L337.6,560.0 M341.8,563.2 L344.4,559.8 M346.8,563.7 L350.8,561.1 M351.0,565.0 L355.9,563.6 M353.8,566.9 L358.8,566.9" stroke="#3aa64a" stroke-width="1.2" fill="none"/><ellipse cx="341.8" cy="569.2" rx="13.5" ry="6.5" fill="#8fd07e" stroke="#36a244" stroke-width="1.2"/><ellipse cx="342.8" cy="569.2" rx="8" ry="3.6" fill="none" stroke="#2e9a3e" stroke-width="1"/></g>
<circle cx="338.8" cy="570.2" r="3.3" fill="#e60012"/>
<g fill="#9c92e0" stroke="#2d3a9e" stroke-width="1.1" stroke-linejoin="round"><path d="M384.5,571 L416.5,568 L416.5,573 L384.5,576 Z"/><path d="M389.5,573 L387.5,584 L391.5,584 L393.5,573 Z"/><path d="M398.5,572 L397.5,582 L401.5,582 L402.5,572 Z"/><path d="M406.5,571 L407.5,584 L411.5,584 L410.5,571 Z"/><path d="M403.5,570 L406.5,556 L410.5,557 L407.5,570 Z"/></g>
<circle cx="388.5" cy="573" r="3.3" fill="#e60012"/>
<g fill="#9c92e0" stroke="#2d3a9e" stroke-width="1.1" stroke-linejoin="round"><path d="M435,571 L467,568 L467,573 L435,576 Z"/><path d="M440,573 L438,584 L442,584 L444,573 Z"/><path d="M449,572 L448,582 L452,582 L453,572 Z"/><path d="M457,571 L458,584 L462,584 L461,571 Z"/><path d="M454,570 L457,556 L461,557 L458,570 Z"/></g>
<circle cx="439" cy="573" r="3.3" fill="#e60012"/>
<path d="M296.7,656.3 L296.6,656.6 L296.4,657.0 L296.0,657.4 L295.7,657.7 L295.2,657.9 L294.6,658.1 L294.1,658.2 L293.4,658.2 L292.8,658.1 L292.2,657.9 L291.6,657.6 L291.0,657.2 L290.6,656.7 L290.2,656.2 L289.9,655.5 L289.8,654.8 L289.8,654.1 L290.0,653.3 L290.3,652.6 L290.7,651.9 L291.3,651.3 L292.1,650.8 L292.9,650.4 L293.9,650.1 L294.9,649.9 L295.9,650.0 L297.0,650.1 L298.0,650.5 L298.9,651.0 L299.8,651.6 L300.5,652.4 L301.1,653.3 L301.5,654.3 L301.7,655.4 L301.7,656.5 L301.5,657.6 L301.0,658.7 L300.4,659.7 L299.5,660.6 L298.5,661.4 L297.3,662.0 L295.9,662.4 L294.5,662.7 L293.0,662.7 L291.6,662.5 L290.1,662.0 L288.8,661.4 L287.6,660.5 L286.5,659.5 L285.7,658.2 L285.1,656.9 L284.8,655.5 L284.7,654.0 L285.0,652.5 L285.5,651.1 L286.3,649.7 L287.4,648.5 L288.7,647.4 L290.3,646.5 L292.0,645.9 L293.8,645.5 L295.7,645.5 L297.6,645.7 L299.4,646.2 L301.2,646.9 L302.8,648.0 L304.2,649.2 L305.3,650.7 L306.2,652.4 L306.7,654.2 L306.9,656.0 L306.6,657.9 L306.1,659.7 L305.2,661.4 L303.9,663.0 L302.3,664.4 L300.5,665.6 L298.4,666.4 L296.2,667.0" fill="none" stroke="#1f7a3a" stroke-width="2.6" stroke-linecap="round"/>
<path d="M331.3,655.7 L331.2,656.0 L331.0,656.4 L330.6,656.8 L330.3,657.1 L329.8,657.3 L329.2,657.5 L328.7,657.6 L328.0,657.6 L327.4,657.5 L326.8,657.3 L326.2,657.0 L325.6,656.6 L325.2,656.1 L324.8,655.6 L324.5,654.9 L324.4,654.2 L324.4,653.5 L324.6,652.7 L324.9,652.0 L325.3,651.3 L325.9,650.7 L326.7,650.2 L327.5,649.8 L328.5,649.5 L329.5,649.3 L330.5,649.4 L331.6,649.5 L332.6,649.9 L333.5,650.4 L334.4,651.0 L335.1,651.8 L335.7,652.7 L336.1,653.7 L336.3,654.8 L336.3,655.9 L336.1,657.0 L335.6,658.1 L335.0,659.1 L334.1,660.0 L333.1,660.8 L331.9,661.4 L330.5,661.8 L329.1,662.1 L327.6,662.1 L326.2,661.9 L324.7,661.4 L323.4,660.8 L322.2,659.9 L321.1,658.9 L320.3,657.6 L319.7,656.3 L319.4,654.9 L319.3,653.4 L319.6,651.9 L320.1,650.5 L320.9,649.1 L322.0,647.9 L323.3,646.8 L324.9,645.9 L326.6,645.3 L328.4,644.9 L330.3,644.9 L332.2,645.1 L334.0,645.6 L335.8,646.3 L337.4,647.4 L338.8,648.6 L339.9,650.1 L340.8,651.8 L341.3,653.6 L341.5,655.4 L341.2,657.3 L340.7,659.1 L339.8,660.8 L338.5,662.4 L336.9,663.8 L335.1,665.0 L333.0,665.8 L330.8,666.4" fill="none" stroke="#1f7a3a" stroke-width="2.6" stroke-linecap="round"/>
<circle cx="282.5" cy="656.5" r="3.5" fill="#e60012"/>
<circle cx="324.5" cy="664.2" r="3.5" fill="#e60012"/>
<path d="M425,647 L424,641 L427.5,645 L430,641 L432.5,645 L436,641 L435,647 Q438,652 437,662 Q435,670 430,674 Q425,670 423,662 Q422,652 425,647 Z" fill="#f4a0ad" stroke="#e5385a" stroke-width="1.2"/>
<circle cx="430" cy="661" r="3.4" fill="#e60012"/>
<path d="M451.2,647 L450.2,641 L453.7,645 L456.2,641 L458.7,645 L462.2,641 L461.2,647 Q464.2,652 463.2,662 Q461.2,670 456.2,674 Q451.2,670 449.2,662 Q448.2,652 451.2,647 Z" fill="#f4a0ad" stroke="#e5385a" stroke-width="1.2"/>
<circle cx="456.2" cy="661" r="3.4" fill="#e60012"/>
<rect x="474.6" y="641" width="12" height="33" rx="6" fill="#f6c21c"/>
<path d="M477.6,646 h3 M481.6,645 h3" stroke="#6b4a10" stroke-width="0.8"/>
<circle cx="480.1" cy="659" r="3.3" fill="#e60012"/>
<rect x="498.1" y="641" width="12" height="33" rx="6" fill="#f6c21c"/>
<path d="M501.1,646 h3 M505.1,645 h3" stroke="#6b4a10" stroke-width="0.8"/>
<circle cx="503.6" cy="659" r="3.3" fill="#e60012"/>
<path d="M240.5,754 L240.5,776 Q241,795 218,797 L210,797.5" fill="none" stroke="#c45aac" stroke-width="7" stroke-linecap="round"/>
<path d="M240.5,754 L240.5,776 Q241,795 218,797 L210,797.5" fill="none" stroke="#ebb6e6" stroke-width="4.6" stroke-linecap="round"/>
<path d="M239.5,757 L239.5,764 M241,768 L242,760" stroke="#c45aac" stroke-width="0.7" fill="none"/>
<circle cx="241" cy="786" r="3.5" fill="#e60012"/>
<path d="M323,779 Q316,766 308,762 M321,784 Q314,776 309,776 M320,793 Q314,789 309,790 M322,799 Q317,806 315,809 M335,779 Q342,766 350,762 M337,784 Q344,776 349,776 M338,793 Q344,789 349,790 M336,799 Q341,806 343,809" stroke="#6e1a14" stroke-width="1.5" fill="none" stroke-linecap="round"/>
<path d="M326.5,775 L327,766 L329,770 L331,766 L331.5,775 Z" fill="#6e1a14"/>
<ellipse cx="329" cy="790" rx="10.5" ry="14.5" fill="#8a2a20"/><ellipse cx="329" cy="790" rx="8.5" ry="12.5" fill="#5e1510"/><ellipse cx="329" cy="787" rx="4" ry="7" fill="#7a2218" opacity="0.7"/>
<circle cx="329" cy="791" r="3.4" fill="#e60012"/>
<path d="M382.7,794.6 C387,785 392,768 398,771 C404,775 398,792 404,799 C410,804 420,797 419,789 C418,780 410,772 412,762 C413,757 416,754 417.3,754.2" fill="none" stroke="#b98a63" stroke-width="4.8" stroke-linecap="round"/>
<path d="M382.7,794.6 C387,785 392,768 398,771 C404,775 398,792 404,799 C410,804 420,797 419,789 C418,780 410,772 412,762 C413,757 416,754 417.3,754.2" fill="none" stroke="#dcb08a" stroke-width="2.8" stroke-linecap="round" stroke-dasharray="2 1"/>
<circle cx="415" cy="796.5" r="3.2" fill="#e60012"/>
<path d="M464,769 L454,762 M464,770 L454,768 M468,776 L465,788 M471,778 L469,790 M474,780 L475,792" stroke="#7e8a90" stroke-width="0.9" fill="none"/>
<path d="M487,787 L490,807" stroke="#333" stroke-width="1" fill="none"/>
<ellipse cx="476" cy="778.5" rx="14.5" ry="4.3" transform="rotate(37 476 778.5)" fill="#d5581f"/>
<line x1="469.4" y1="777.9" x2="473.8" y2="772.3" stroke="#f3a25a" stroke-width="1.6"/>
<line x1="473.8" y1="781.3" x2="478.2" y2="775.7" stroke="#f3a25a" stroke-width="1.6"/>
<line x1="478.2" y1="784.7" x2="482.6" y2="779.1" stroke="#f3a25a" stroke-width="1.6"/>
<line x1="482.2" y1="787.8" x2="486.6" y2="782.2" stroke="#f3a25a" stroke-width="1.6"/>
<circle cx="463" cy="768" r="2.8" fill="#c24e1a"/>
<circle cx="476.5" cy="777" r="3.2" fill="#e60012"/>
<path d="M558,772 Q552,766 555,759 Q556,765 560,769 M566,772 Q572,766 569,759 Q568,765 564,769" stroke="#1a1a1a" stroke-width="1.5" fill="none" stroke-linecap="round"/>
<path d="M556,782 Q551,786 551,791 M568,782 Q573,786 573,791 M555,792 Q551,796 552,801 M569,792 Q573,796 572,801 M557,800 Q554,804 555,807 M567,800 Q570,804 569,807" stroke="#1a1a1a" stroke-width="1" fill="none"/>
<ellipse cx="562" cy="772" rx="5" ry="3.6" fill="#2a2a2a"/><ellipse cx="562" cy="780" rx="7.2" ry="4.8" fill="#3a3a3a"/><ellipse cx="562" cy="794" rx="8" ry="10.5" fill="#1c1c1c"/>
<path d="M558,778 Q562,776 566,778" stroke="#8a8a8a" stroke-width="0.9" fill="none"/>
<circle cx="561.5" cy="791" r="3.3" fill="#e60012"/>
<path d="M691,597 Q694,588 700,587 Q708,590 714,589 Q722,586 731,588" fill="none" stroke="#b69b3d" stroke-width="4" stroke-linecap="round"/>
<path d="M698,593 Q708,600 716,606 Q722,612 726,617 Q735,624 744,628" fill="none" stroke="#b69b3d" stroke-width="4" stroke-linecap="round"/>
<path d="M689,613 Q700,612 704,617 Q708,626 722,628" fill="none" stroke="#b69b3d" stroke-width="4" stroke-linecap="round"/>
<path d="M715,586 L758,622" fill="none" stroke="#b69b3d" stroke-width="4.5" stroke-linecap="round"/>
<path d="M721,580 Q714,600 701,628" fill="none" stroke="#eeb52c" stroke-width="4" stroke-linecap="round"/>
<ellipse cx="721" cy="581" rx="4" ry="4.5" fill="#eeb52c"/>
<path d="M737,588 Q734,610 729,635" fill="none" stroke="#eeb52c" stroke-width="3" stroke-linecap="round"/>
<path d="M751,599 Q748,615 750,629" fill="none" stroke="#eeb52c" stroke-width="3.5" stroke-linecap="round"/>
<circle cx="699.5" cy="590.9" r="3" fill="#e60012"/>
<circle cx="733.2" cy="600.3" r="3" fill="#e60012"/>
<circle cx="703.4" cy="625" r="3" fill="#e60012"/>
<circle cx="731.4" cy="619.2" r="3" fill="#e60012"/>
<path d="M692,703 Q700,694 712,697 Q722,692 728,701 Q740,698 748,705 Q760,712 758,728 Q762,742 750,748 Q746,758 734,760 Q724,765 716,758 Q704,762 698,752 Q688,748 692,734 Q686,718 692,703 Z" fill="#6b4a23" stroke="#3d2812" stroke-width="1.2"/>
<path d="M718,735 Q730,726 742,732 Q748,745 738,756 Q728,760 724,750 Q716,745 718,735 Z" fill="#a8702e" stroke="#3d2812" stroke-width="0.8"/>
<path d="M728,701 Q724,716 736,724 M700,728 Q716,722 728,730" fill="none" stroke="#3d2812" stroke-width="0.9"/>
<circle cx="691.6" cy="701.5" r="4.6" fill="#d2c53e"/>
<circle cx="745.2" cy="705.4" r="4.6" fill="#d2c53e"/>
<circle cx="749.3" cy="733" r="4.6" fill="#d2c53e"/>
<circle cx="693.6" cy="738.7" r="4.6" fill="#d2c53e"/>
<circle cx="720" cy="759" r="4.6" fill="#d2c53e"/>
<circle cx="709.9" cy="710.6" r="2.8" fill="#e60012"/>
<circle cx="744.4" cy="718.4" r="2.8" fill="#e60012"/>
<circle cx="713.9" cy="747.2" r="2.8" fill="#e60012"/>
<circle cx="734.3" cy="749.2" r="2.8" fill="#e60012"/>
</svg></body></html>
